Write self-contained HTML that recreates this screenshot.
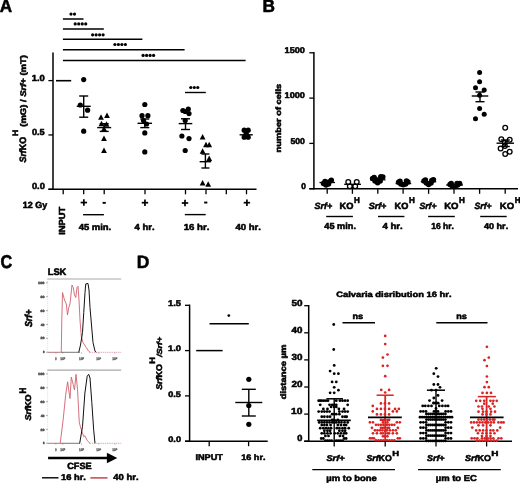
<!DOCTYPE html>
<html><head><meta charset="utf-8"><style>
html,body{margin:0;padding:0;background:#fff;width:520px;height:483px;overflow:hidden}
svg{display:block;filter:blur(0.35px)}
text{font-family:"Liberation Sans",sans-serif;font-kerning:none;text-rendering:geometricPrecision}
</style></head><body>
<svg width="520" height="483" viewBox="0 0 520 483">
<rect width="520" height="483" fill="#fff"/>
<text transform="translate(-0.241,12.025) scale(0.17197,0.17899)" fill="#000"  stroke="#000" stroke-width="3.134" stroke-linejoin="round"><tspan x="0.00" y="0.00" font-size="100.0" font-style="normal" font-weight="bold">A</tspan></text>
<text transform="translate(262.564,12.025) scale(0.17295,0.17899)" fill="#000"  stroke="#000" stroke-width="3.126" stroke-linejoin="round"><tspan x="0.00" y="0.00" font-size="100.0" font-style="normal" font-weight="bold">B</tspan></text>
<text transform="translate(0.426,268.338) scale(0.16231,0.18662)" fill="#000"  stroke="#000" stroke-width="3.153" stroke-linejoin="round"><tspan x="0.00" y="0.00" font-size="100.0" font-style="normal" font-weight="bold">C</tspan></text>
<text transform="translate(136.853,268.125) scale(0.17459,0.17899)" fill="#000"  stroke="#000" stroke-width="3.111" stroke-linejoin="round"><tspan x="0.00" y="0.00" font-size="100.0" font-style="normal" font-weight="bold">D</tspan></text>
<line x1="53.00" y1="52.50" x2="53.00" y2="190.00" stroke="#000" stroke-width="1.5" />
<line x1="48.40" y1="189.30" x2="256.50" y2="189.30" stroke="#000" stroke-width="1.5" />
<line x1="48.40" y1="80.60" x2="53.00" y2="80.60" stroke="#000" stroke-width="1.3" />
<text transform="translate(31.710,80.637) scale(0.09419,0.08803)" fill="#000"  stroke="#000" stroke-width="6.037" stroke-linejoin="round"><tspan x="0.00" y="0.00" font-size="100.0" font-style="normal" font-weight="bold">1.0</tspan></text>
<line x1="48.40" y1="134.95" x2="53.00" y2="134.95" stroke="#000" stroke-width="1.3" />
<text transform="translate(31.907,134.987) scale(0.09205,0.08803)" fill="#000"  stroke="#000" stroke-width="6.109" stroke-linejoin="round"><tspan x="0.00" y="0.00" font-size="100.0" font-style="normal" font-weight="bold">0.5</tspan></text>
<line x1="48.40" y1="189.30" x2="53.00" y2="189.30" stroke="#000" stroke-width="1.3" />
<text transform="translate(31.904,189.337) scale(0.09275,0.08803)" fill="#000"  stroke="#000" stroke-width="6.085" stroke-linejoin="round"><tspan x="0.00" y="0.00" font-size="100.0" font-style="normal" font-weight="bold">0.0</tspan></text>
<line x1="63.20" y1="189.30" x2="63.20" y2="194.30" stroke="#000" stroke-width="1.3" />
<line x1="83.70" y1="189.30" x2="83.70" y2="194.30" stroke="#000" stroke-width="1.3" />
<line x1="104.20" y1="189.30" x2="104.20" y2="194.30" stroke="#000" stroke-width="1.3" />
<line x1="145.00" y1="189.30" x2="145.00" y2="194.30" stroke="#000" stroke-width="1.3" />
<line x1="185.50" y1="189.30" x2="185.50" y2="194.30" stroke="#000" stroke-width="1.3" />
<line x1="206.00" y1="189.30" x2="206.00" y2="194.30" stroke="#000" stroke-width="1.3" />
<line x1="226.30" y1="189.30" x2="226.30" y2="194.30" stroke="#000" stroke-width="1.3" />
<line x1="246.50" y1="189.30" x2="246.50" y2="194.30" stroke="#000" stroke-width="1.3" />
<line x1="62.90" y1="19.00" x2="83.50" y2="19.00" stroke="#000" stroke-width="1.5" />
<line x1="62.90" y1="29.10" x2="103.80" y2="29.10" stroke="#000" stroke-width="1.5" />
<line x1="62.90" y1="39.20" x2="142.40" y2="39.20" stroke="#000" stroke-width="1.5" />
<line x1="62.90" y1="49.80" x2="184.60" y2="49.80" stroke="#000" stroke-width="1.5" />
<line x1="62.90" y1="60.40" x2="245.60" y2="60.40" stroke="#000" stroke-width="1.5" />
<circle cx="71.00" cy="14.10" r="1.60" fill="#000" stroke="none" stroke-width="0"/>
<circle cx="74.50" cy="14.10" r="1.60" fill="#000" stroke="none" stroke-width="0"/>
<circle cx="75.20" cy="23.90" r="1.60" fill="#000" stroke="none" stroke-width="0"/>
<circle cx="78.70" cy="23.90" r="1.60" fill="#000" stroke="none" stroke-width="0"/>
<circle cx="82.20" cy="23.90" r="1.60" fill="#000" stroke="none" stroke-width="0"/>
<circle cx="85.70" cy="23.90" r="1.60" fill="#000" stroke="none" stroke-width="0"/>
<circle cx="92.60" cy="34.80" r="1.60" fill="#000" stroke="none" stroke-width="0"/>
<circle cx="96.10" cy="34.80" r="1.60" fill="#000" stroke="none" stroke-width="0"/>
<circle cx="99.60" cy="34.80" r="1.60" fill="#000" stroke="none" stroke-width="0"/>
<circle cx="103.10" cy="34.80" r="1.60" fill="#000" stroke="none" stroke-width="0"/>
<circle cx="114.90" cy="44.50" r="1.60" fill="#000" stroke="none" stroke-width="0"/>
<circle cx="118.40" cy="44.50" r="1.60" fill="#000" stroke="none" stroke-width="0"/>
<circle cx="121.90" cy="44.50" r="1.60" fill="#000" stroke="none" stroke-width="0"/>
<circle cx="125.40" cy="44.50" r="1.60" fill="#000" stroke="none" stroke-width="0"/>
<circle cx="143.10" cy="55.40" r="1.60" fill="#000" stroke="none" stroke-width="0"/>
<circle cx="146.60" cy="55.40" r="1.60" fill="#000" stroke="none" stroke-width="0"/>
<circle cx="150.10" cy="55.40" r="1.60" fill="#000" stroke="none" stroke-width="0"/>
<circle cx="153.60" cy="55.40" r="1.60" fill="#000" stroke="none" stroke-width="0"/>
<line x1="185.00" y1="92.50" x2="205.80" y2="92.50" stroke="#000" stroke-width="1.4" />
<circle cx="190.80" cy="87.50" r="1.60" fill="#000" stroke="none" stroke-width="0"/>
<circle cx="194.30" cy="87.50" r="1.60" fill="#000" stroke="none" stroke-width="0"/>
<circle cx="197.80" cy="87.50" r="1.60" fill="#000" stroke="none" stroke-width="0"/>
<line x1="56.00" y1="80.70" x2="71.20" y2="80.70" stroke="#000" stroke-width="1.6" />
<circle cx="83.70" cy="79.60" r="2.60" fill="#000" stroke="none" stroke-width="0"/>
<circle cx="80.30" cy="105.00" r="2.60" fill="#000" stroke="none" stroke-width="0"/>
<circle cx="87.60" cy="110.20" r="2.60" fill="#000" stroke="none" stroke-width="0"/>
<circle cx="83.70" cy="131.20" r="2.60" fill="#000" stroke="none" stroke-width="0"/>
<line x1="76.70" y1="106.30" x2="90.70" y2="106.30" stroke="#000" stroke-width="1.4" />
<line x1="83.70" y1="96.00" x2="83.70" y2="117.20" stroke="#000" stroke-width="1.4" />
<line x1="79.20" y1="96.00" x2="88.20" y2="96.00" stroke="#000" stroke-width="1.4" />
<line x1="79.20" y1="117.20" x2="88.20" y2="117.20" stroke="#000" stroke-width="1.4" />
<polygon points="101.00,114.19 98.10,119.70 103.90,119.70" fill="#000"/>
<polygon points="107.00,112.49 104.10,118.00 109.90,118.00" fill="#000"/>
<polygon points="101.50,120.69 98.60,126.20 104.40,126.20" fill="#000"/>
<polygon points="106.50,121.19 103.60,126.70 109.40,126.70" fill="#000"/>
<polygon points="104.00,125.69 101.10,131.20 106.90,131.20" fill="#000"/>
<polygon points="104.00,135.39 101.10,140.90 106.90,140.90" fill="#000"/>
<polygon points="104.00,147.59 101.10,153.10 106.90,153.10" fill="#000"/>
<line x1="97.20" y1="127.60" x2="111.20" y2="127.60" stroke="#000" stroke-width="1.4" />
<line x1="104.20" y1="123.70" x2="104.20" y2="131.40" stroke="#000" stroke-width="1.4" />
<line x1="99.70" y1="123.70" x2="108.70" y2="123.70" stroke="#000" stroke-width="1.4" />
<line x1="99.70" y1="131.40" x2="108.70" y2="131.40" stroke="#000" stroke-width="1.4" />
<circle cx="144.80" cy="104.50" r="2.60" fill="#000" stroke="none" stroke-width="0"/>
<circle cx="142.00" cy="115.70" r="2.60" fill="#000" stroke="none" stroke-width="0"/>
<circle cx="147.90" cy="115.70" r="2.60" fill="#000" stroke="none" stroke-width="0"/>
<circle cx="143.50" cy="120.50" r="2.60" fill="#000" stroke="none" stroke-width="0"/>
<circle cx="146.50" cy="124.00" r="2.60" fill="#000" stroke="none" stroke-width="0"/>
<circle cx="144.80" cy="132.90" r="2.60" fill="#000" stroke="none" stroke-width="0"/>
<circle cx="144.80" cy="151.90" r="2.60" fill="#000" stroke="none" stroke-width="0"/>
<line x1="137.55" y1="123.30" x2="152.05" y2="123.30" stroke="#000" stroke-width="1.4" />
<line x1="144.80" y1="119.00" x2="144.80" y2="127.60" stroke="#000" stroke-width="1.4" />
<line x1="140.30" y1="119.00" x2="149.30" y2="119.00" stroke="#000" stroke-width="1.4" />
<line x1="140.30" y1="127.60" x2="149.30" y2="127.60" stroke="#000" stroke-width="1.4" />
<circle cx="182.90" cy="110.50" r="2.60" fill="#000" stroke="none" stroke-width="0"/>
<circle cx="188.30" cy="109.00" r="2.60" fill="#000" stroke="none" stroke-width="0"/>
<circle cx="185.20" cy="111.50" r="2.60" fill="#000" stroke="none" stroke-width="0"/>
<circle cx="189.00" cy="113.60" r="2.60" fill="#000" stroke="none" stroke-width="0"/>
<circle cx="185.20" cy="120.50" r="2.60" fill="#000" stroke="none" stroke-width="0"/>
<circle cx="181.90" cy="136.00" r="2.60" fill="#000" stroke="none" stroke-width="0"/>
<circle cx="189.00" cy="138.60" r="2.60" fill="#000" stroke="none" stroke-width="0"/>
<circle cx="185.20" cy="150.50" r="2.60" fill="#000" stroke="none" stroke-width="0"/>
<line x1="178.70" y1="123.60" x2="192.30" y2="123.60" stroke="#000" stroke-width="1.4" />
<line x1="185.50" y1="118.80" x2="185.50" y2="129.50" stroke="#000" stroke-width="1.4" />
<line x1="181.00" y1="118.80" x2="190.00" y2="118.80" stroke="#000" stroke-width="1.4" />
<line x1="181.00" y1="129.50" x2="190.00" y2="129.50" stroke="#000" stroke-width="1.4" />
<polygon points="202.60,133.99 199.70,139.50 205.50,139.50" fill="#000"/>
<polygon points="206.00,141.69 203.10,147.20 208.90,147.20" fill="#000"/>
<polygon points="209.20,141.69 206.30,147.20 212.10,147.20" fill="#000"/>
<polygon points="202.60,148.29 199.70,153.80 205.50,153.80" fill="#000"/>
<polygon points="209.20,155.49 206.30,161.00 212.10,161.00" fill="#000"/>
<polygon points="202.60,179.99 199.70,185.50 205.50,185.50" fill="#000"/>
<polygon points="208.20,181.19 205.30,186.70 211.10,186.70" fill="#000"/>
<line x1="199.65" y1="161.70" x2="211.15" y2="161.70" stroke="#000" stroke-width="1.4" />
<line x1="205.40" y1="154.00" x2="205.40" y2="168.00" stroke="#000" stroke-width="1.4" />
<line x1="201.40" y1="154.00" x2="209.40" y2="154.00" stroke="#000" stroke-width="1.4" />
<line x1="201.40" y1="168.00" x2="209.40" y2="168.00" stroke="#000" stroke-width="1.4" />
<circle cx="244.20" cy="130.20" r="2.60" fill="#000" stroke="none" stroke-width="0"/>
<circle cx="248.20" cy="130.20" r="2.60" fill="#000" stroke="none" stroke-width="0"/>
<circle cx="246.20" cy="133.20" r="2.60" fill="#000" stroke="none" stroke-width="0"/>
<circle cx="244.20" cy="137.20" r="2.60" fill="#000" stroke="none" stroke-width="0"/>
<circle cx="248.20" cy="137.20" r="2.60" fill="#000" stroke="none" stroke-width="0"/>
<line x1="239.60" y1="134.80" x2="252.80" y2="134.80" stroke="#000" stroke-width="1.4" />
<text transform="translate(22.635,208.444) scale(0.09004,0.08956)" fill="#000"  stroke="#000" stroke-width="6.125" stroke-linejoin="round"><tspan x="0.00" y="0.00" font-size="100.0" font-style="normal" font-weight="bold">12 Gy</tspan></text>
<line x1="80.65" y1="202.55" x2="87.05" y2="202.55" stroke="#000" stroke-width="1.7" />
<line x1="83.85" y1="199.35" x2="83.85" y2="205.75" stroke="#000" stroke-width="1.7" />
<line x1="141.75" y1="202.70" x2="148.15" y2="202.70" stroke="#000" stroke-width="1.7" />
<line x1="144.95" y1="199.50" x2="144.95" y2="205.90" stroke="#000" stroke-width="1.7" />
<line x1="181.80" y1="203.00" x2="188.20" y2="203.00" stroke="#000" stroke-width="1.7" />
<line x1="185.00" y1="199.80" x2="185.00" y2="206.20" stroke="#000" stroke-width="1.7" />
<line x1="243.70" y1="202.70" x2="250.10" y2="202.70" stroke="#000" stroke-width="1.7" />
<line x1="246.90" y1="199.50" x2="246.90" y2="205.90" stroke="#000" stroke-width="1.7" />
<line x1="102.60" y1="202.85" x2="105.80" y2="202.85" stroke="#000" stroke-width="1.9" />
<line x1="204.15" y1="202.55" x2="207.35" y2="202.55" stroke="#000" stroke-width="1.9" />
<line x1="83.10" y1="214.70" x2="103.90" y2="214.70" stroke="#000" stroke-width="1.4" />
<line x1="184.80" y1="214.60" x2="205.70" y2="214.60" stroke="#000" stroke-width="1.4" />
<text transform="translate(78.680,230.038) scale(0.09451,0.08699)" fill="#000"  stroke="#000" stroke-width="6.061" stroke-linejoin="round"><tspan x="0.00" y="0.00" font-size="100.0" font-style="normal" font-weight="bold">45 min.</tspan></text>
<text transform="translate(134.580,230.125) scale(0.09470,0.08819)" fill="#000"  stroke="#000" stroke-width="6.014" stroke-linejoin="round"><tspan x="0.00" y="0.00" font-size="100.0" font-style="normal" font-weight="bold">4 hr.</tspan></text>
<text transform="translate(183.696,230.038) scale(0.09657,0.08699)" fill="#000"  stroke="#000" stroke-width="5.993" stroke-linejoin="round"><tspan x="0.00" y="0.00" font-size="100.0" font-style="normal" font-weight="bold">16 hr.</tspan></text>
<text transform="translate(235.380,230.038) scale(0.09545,0.08699)" fill="#000"  stroke="#000" stroke-width="6.029" stroke-linejoin="round"><tspan x="0.00" y="0.00" font-size="100.0" font-style="normal" font-weight="bold">40 hr.</tspan></text>
<text transform="translate(64.837,234.781) rotate(-90) scale(0.09366,0.08786)" fill="#000"  stroke="#000" stroke-width="6.060" stroke-linejoin="round"><tspan x="0.00" y="0.00" font-size="100.0" font-style="normal" font-weight="bold">INPUT</tspan></text>
<text transform="translate(25.933,162.514) rotate(-90) scale(0.08856,0.09247)" fill="#000"  stroke="#000" stroke-width="6.077" stroke-linejoin="round"><tspan x="0.00" y="0.00" font-size="100.0" font-style="italic" font-weight="bold">Srf</tspan><tspan x="138.92" y="0.00" font-size="100.0" font-style="normal" font-weight="bold">KO</tspan></text>
<text transform="translate(17.925,136.124) rotate(-90) scale(0.08559,0.07899)" fill="#000"  stroke="#000" stroke-width="6.684" stroke-linejoin="round"><tspan x="0.00" y="0.00" font-size="100.0" font-style="normal" font-weight="bold">H</tspan></text>
<text transform="translate(25.598,126.697) rotate(-90) scale(0.09445,0.08226)" fill="#000"  stroke="#000" stroke-width="6.225" stroke-linejoin="round"><tspan x="0.00" y="0.00" font-size="100.0" font-style="normal" font-weight="bold">(mG) / </tspan><tspan x="316.64" y="0.00" font-size="100.0" font-style="italic" font-weight="bold">Srf+</tspan><tspan x="513.97" y="0.00" font-size="100.0" font-style="normal" font-weight="bold"> (mT)</tspan></text>
<line x1="313.90" y1="52.00" x2="313.90" y2="189.40" stroke="#000" stroke-width="1.5" />
<line x1="309.30" y1="188.70" x2="518.00" y2="188.70" stroke="#000" stroke-width="1.5" />
<line x1="309.30" y1="52.80" x2="313.90" y2="52.80" stroke="#000" stroke-width="1.3" />
<line x1="309.30" y1="98.10" x2="313.90" y2="98.10" stroke="#000" stroke-width="1.3" />
<line x1="309.30" y1="143.40" x2="313.90" y2="143.40" stroke="#000" stroke-width="1.3" />
<line x1="309.30" y1="188.70" x2="313.90" y2="188.70" stroke="#000" stroke-width="1.3" />
<text transform="translate(284.524,52.541) scale(0.09178,0.08380)" fill="#000"  stroke="#000" stroke-width="6.265" stroke-linejoin="round"><tspan x="0.00" y="0.00" font-size="100.0" font-style="normal" font-weight="bold">1500</tspan></text>
<text transform="translate(284.524,98.041) scale(0.09178,0.08380)" fill="#000"  stroke="#000" stroke-width="6.265" stroke-linejoin="round"><tspan x="0.00" y="0.00" font-size="100.0" font-style="normal" font-weight="bold">1000</tspan></text>
<text transform="translate(290.413,143.541) scale(0.08719,0.08380)" fill="#000"  stroke="#000" stroke-width="6.433" stroke-linejoin="round"><tspan x="0.00" y="0.00" font-size="100.0" font-style="normal" font-weight="bold">500</tspan></text>
<text transform="translate(301.238,188.741) scale(0.08438,0.08380)" fill="#000"  stroke="#000" stroke-width="6.541" stroke-linejoin="round"><tspan x="0.00" y="0.00" font-size="100.0" font-style="normal" font-weight="bold">0</tspan></text>
<line x1="327.20" y1="188.70" x2="327.20" y2="193.80" stroke="#000" stroke-width="1.3" />
<line x1="352.40" y1="188.70" x2="352.40" y2="193.80" stroke="#000" stroke-width="1.3" />
<line x1="377.80" y1="188.70" x2="377.80" y2="193.80" stroke="#000" stroke-width="1.3" />
<line x1="403.10" y1="188.70" x2="403.10" y2="193.80" stroke="#000" stroke-width="1.3" />
<line x1="428.60" y1="188.70" x2="428.60" y2="193.80" stroke="#000" stroke-width="1.3" />
<line x1="454.00" y1="188.70" x2="454.00" y2="193.80" stroke="#000" stroke-width="1.3" />
<line x1="479.60" y1="188.70" x2="479.60" y2="193.80" stroke="#000" stroke-width="1.3" />
<line x1="505.20" y1="188.70" x2="505.20" y2="193.80" stroke="#000" stroke-width="1.3" />
<text transform="translate(314.586,209.434) scale(0.08892,0.09110)" fill="#000"  stroke="#000" stroke-width="6.111" stroke-linejoin="round"><tspan x="0.00" y="0.00" font-size="100.0" font-style="italic" font-weight="bold">Srf+</tspan></text>
<text transform="translate(368.686,209.434) scale(0.08943,0.09110)" fill="#000"  stroke="#000" stroke-width="6.093" stroke-linejoin="round"><tspan x="0.00" y="0.00" font-size="100.0" font-style="italic" font-weight="bold">Srf+</tspan></text>
<text transform="translate(419.388,209.434) scale(0.08686,0.09110)" fill="#000"  stroke="#000" stroke-width="6.181" stroke-linejoin="round"><tspan x="0.00" y="0.00" font-size="100.0" font-style="italic" font-weight="bold">Srf+</tspan></text>
<text transform="translate(474.589,209.434) scale(0.08634,0.09110)" fill="#000"  stroke="#000" stroke-width="6.199" stroke-linejoin="round"><tspan x="0.00" y="0.00" font-size="100.0" font-style="italic" font-weight="bold">Srf+</tspan></text>
<text transform="translate(339.423,209.434) scale(0.09317,0.09085)" fill="#000"  stroke="#000" stroke-width="5.978" stroke-linejoin="round"><tspan x="0.00" y="0.00" font-size="100.0" font-style="normal" font-weight="bold">KO</tspan></text>
<text transform="translate(354.011,203.425) scale(0.08051,0.08188)" fill="#000"  stroke="#000" stroke-width="6.774" stroke-linejoin="round"><tspan x="0.00" y="0.00" font-size="100.0" font-style="normal" font-weight="bold">H</tspan></text>
<text transform="translate(394.533,209.434) scale(0.09173,0.09085)" fill="#000"  stroke="#000" stroke-width="6.025" stroke-linejoin="round"><tspan x="0.00" y="0.00" font-size="100.0" font-style="normal" font-weight="bold">KO</tspan></text>
<text transform="translate(408.911,203.425) scale(0.08051,0.08188)" fill="#000"  stroke="#000" stroke-width="6.774" stroke-linejoin="round"><tspan x="0.00" y="0.00" font-size="100.0" font-style="normal" font-weight="bold">H</tspan></text>
<text transform="translate(444.208,209.434) scale(0.09532,0.09085)" fill="#000"  stroke="#000" stroke-width="5.909" stroke-linejoin="round"><tspan x="0.00" y="0.00" font-size="100.0" font-style="normal" font-weight="bold">KO</tspan></text>
<text transform="translate(459.111,203.425) scale(0.08051,0.08188)" fill="#000"  stroke="#000" stroke-width="6.774" stroke-linejoin="round"><tspan x="0.00" y="0.00" font-size="100.0" font-style="normal" font-weight="bold">H</tspan></text>
<text transform="translate(499.808,209.434) scale(0.09532,0.09085)" fill="#000"  stroke="#000" stroke-width="5.909" stroke-linejoin="round"><tspan x="0.00" y="0.00" font-size="100.0" font-style="normal" font-weight="bold">KO</tspan></text>
<text transform="translate(514.711,203.425) scale(0.08051,0.08188)" fill="#000"  stroke="#000" stroke-width="6.774" stroke-linejoin="round"><tspan x="0.00" y="0.00" font-size="100.0" font-style="normal" font-weight="bold">H</tspan></text>
<line x1="326.20" y1="216.50" x2="352.90" y2="216.50" stroke="#000" stroke-width="1.4" />
<line x1="378.00" y1="216.50" x2="404.40" y2="216.50" stroke="#000" stroke-width="1.4" />
<line x1="428.10" y1="216.50" x2="454.80" y2="216.50" stroke="#000" stroke-width="1.4" />
<line x1="480.20" y1="216.50" x2="506.70" y2="216.50" stroke="#000" stroke-width="1.4" />
<text transform="translate(324.283,229.437) scale(0.09184,0.08836)" fill="#000"  stroke="#000" stroke-width="6.104" stroke-linejoin="round"><tspan x="0.00" y="0.00" font-size="100.0" font-style="normal" font-weight="bold">45 min.</tspan></text>
<text transform="translate(382.378,229.425) scale(0.09672,0.08681)" fill="#000"  stroke="#000" stroke-width="5.994" stroke-linejoin="round"><tspan x="0.00" y="0.00" font-size="100.0" font-style="normal" font-weight="bold">4 hr.</tspan></text>
<text transform="translate(431.266,229.339) scale(0.08488,0.08562)" fill="#000"  stroke="#000" stroke-width="6.452" stroke-linejoin="round"><tspan x="0.00" y="0.00" font-size="100.0" font-style="normal" font-weight="bold">16 hr.</tspan></text>
<text transform="translate(483.884,229.341) scale(0.09111,0.08425)" fill="#000"  stroke="#000" stroke-width="6.273" stroke-linejoin="round"><tspan x="0.00" y="0.00" font-size="100.0" font-style="normal" font-weight="bold">40 hr.</tspan></text>
<text transform="translate(281.048,152.375) rotate(-90) scale(0.09279,0.07740)" fill="#000"  stroke="#000" stroke-width="6.464" stroke-linejoin="round"><tspan x="0.00" y="0.00" font-size="100.0" font-style="normal" font-weight="bold">number of cells</tspan></text>
<circle cx="323.50" cy="183.60" r="2.75" fill="#000" stroke="none" stroke-width="0"/>
<circle cx="326.00" cy="185.00" r="2.75" fill="#000" stroke="none" stroke-width="0"/>
<circle cx="328.50" cy="184.00" r="2.75" fill="#000" stroke="none" stroke-width="0"/>
<circle cx="325.00" cy="181.60" r="2.75" fill="#000" stroke="none" stroke-width="0"/>
<circle cx="331.30" cy="180.30" r="2.75" fill="#000" stroke="none" stroke-width="0"/>
<circle cx="329.00" cy="182.00" r="2.75" fill="#000" stroke="none" stroke-width="0"/>
<line x1="319.50" y1="182.50" x2="335.00" y2="182.50" stroke="#000" stroke-width="1.3" />
<circle cx="349.80" cy="186.30" r="2.35" fill="#fff" stroke="#000" stroke-width="1.3"/>
<circle cx="355.20" cy="186.30" r="2.35" fill="#fff" stroke="#000" stroke-width="1.3"/>
<circle cx="348.25" cy="182.00" r="2.35" fill="#fff" stroke="#000" stroke-width="1.3"/>
<circle cx="356.75" cy="182.00" r="2.35" fill="#fff" stroke="#000" stroke-width="1.3"/>
<line x1="344.20" y1="184.30" x2="361.00" y2="184.30" stroke="#000" stroke-width="1.3" />
<line x1="352.50" y1="184.30" x2="352.50" y2="188.00" stroke="#000" stroke-width="1.2" />
<circle cx="372.60" cy="178.60" r="2.75" fill="#000" stroke="none" stroke-width="0"/>
<circle cx="375.00" cy="181.00" r="2.75" fill="#000" stroke="none" stroke-width="0"/>
<circle cx="377.60" cy="182.80" r="2.75" fill="#000" stroke="none" stroke-width="0"/>
<circle cx="380.20" cy="181.00" r="2.75" fill="#000" stroke="none" stroke-width="0"/>
<circle cx="382.80" cy="177.00" r="2.75" fill="#000" stroke="none" stroke-width="0"/>
<circle cx="380.80" cy="176.80" r="2.75" fill="#000" stroke="none" stroke-width="0"/>
<circle cx="374.20" cy="177.50" r="2.75" fill="#000" stroke="none" stroke-width="0"/>
<circle cx="377.60" cy="180.00" r="2.75" fill="#000" stroke="none" stroke-width="0"/>
<line x1="370.00" y1="179.80" x2="385.50" y2="179.80" stroke="#000" stroke-width="1.3" />
<circle cx="398.60" cy="182.20" r="2.75" fill="#000" stroke="none" stroke-width="0"/>
<circle cx="400.80" cy="184.00" r="2.75" fill="#000" stroke="none" stroke-width="0"/>
<circle cx="403.20" cy="184.80" r="2.75" fill="#000" stroke="none" stroke-width="0"/>
<circle cx="405.60" cy="184.00" r="2.75" fill="#000" stroke="none" stroke-width="0"/>
<circle cx="407.90" cy="182.00" r="2.75" fill="#000" stroke="none" stroke-width="0"/>
<circle cx="400.00" cy="181.20" r="2.75" fill="#000" stroke="none" stroke-width="0"/>
<circle cx="406.50" cy="181.00" r="2.75" fill="#000" stroke="none" stroke-width="0"/>
<line x1="395.60" y1="183.60" x2="411.20" y2="183.60" stroke="#000" stroke-width="1.3" />
<circle cx="424.00" cy="181.00" r="2.75" fill="#000" stroke="none" stroke-width="0"/>
<circle cx="426.40" cy="183.00" r="2.75" fill="#000" stroke="none" stroke-width="0"/>
<circle cx="428.60" cy="184.40" r="2.75" fill="#000" stroke="none" stroke-width="0"/>
<circle cx="431.00" cy="183.00" r="2.75" fill="#000" stroke="none" stroke-width="0"/>
<circle cx="433.40" cy="179.80" r="2.75" fill="#000" stroke="none" stroke-width="0"/>
<circle cx="431.80" cy="180.60" r="2.75" fill="#000" stroke="none" stroke-width="0"/>
<circle cx="425.40" cy="180.00" r="2.75" fill="#000" stroke="none" stroke-width="0"/>
<line x1="420.80" y1="181.80" x2="436.20" y2="181.80" stroke="#000" stroke-width="1.3" />
<circle cx="450.00" cy="184.60" r="2.75" fill="#000" stroke="none" stroke-width="0"/>
<circle cx="452.40" cy="186.20" r="2.75" fill="#000" stroke="none" stroke-width="0"/>
<circle cx="455.00" cy="186.40" r="2.75" fill="#000" stroke="none" stroke-width="0"/>
<circle cx="457.60" cy="185.00" r="2.75" fill="#000" stroke="none" stroke-width="0"/>
<circle cx="459.60" cy="183.60" r="2.75" fill="#000" stroke="none" stroke-width="0"/>
<circle cx="451.20" cy="183.60" r="2.75" fill="#000" stroke="none" stroke-width="0"/>
<circle cx="457.00" cy="183.40" r="2.75" fill="#000" stroke="none" stroke-width="0"/>
<line x1="446.20" y1="185.00" x2="463.00" y2="185.00" stroke="#000" stroke-width="1.3" />
<circle cx="479.60" cy="72.50" r="2.50" fill="#000" stroke="none" stroke-width="0"/>
<circle cx="479.60" cy="81.70" r="2.50" fill="#000" stroke="none" stroke-width="0"/>
<circle cx="475.50" cy="87.80" r="2.50" fill="#000" stroke="none" stroke-width="0"/>
<circle cx="484.20" cy="90.10" r="2.50" fill="#000" stroke="none" stroke-width="0"/>
<circle cx="479.60" cy="95.30" r="2.50" fill="#000" stroke="none" stroke-width="0"/>
<circle cx="479.60" cy="108.60" r="2.50" fill="#000" stroke="none" stroke-width="0"/>
<circle cx="484.20" cy="114.30" r="2.50" fill="#000" stroke="none" stroke-width="0"/>
<circle cx="475.50" cy="118.80" r="2.50" fill="#000" stroke="none" stroke-width="0"/>
<line x1="471.75" y1="96.00" x2="488.25" y2="96.00" stroke="#000" stroke-width="1.4" />
<line x1="480.00" y1="92.00" x2="480.00" y2="101.70" stroke="#000" stroke-width="1.4" />
<line x1="475.50" y1="92.00" x2="484.50" y2="92.00" stroke="#000" stroke-width="1.4" />
<line x1="475.50" y1="101.70" x2="484.50" y2="101.70" stroke="#000" stroke-width="1.4" />
<circle cx="505.20" cy="127.70" r="2.35" fill="none" stroke="#000" stroke-width="1.3"/>
<circle cx="501.30" cy="139.30" r="2.35" fill="none" stroke="#000" stroke-width="1.3"/>
<circle cx="509.70" cy="139.80" r="2.35" fill="none" stroke="#000" stroke-width="1.3"/>
<circle cx="504.70" cy="142.80" r="2.35" fill="none" stroke="#000" stroke-width="1.3"/>
<circle cx="500.60" cy="148.50" r="2.35" fill="none" stroke="#000" stroke-width="1.3"/>
<circle cx="509.70" cy="151.70" r="2.35" fill="none" stroke="#000" stroke-width="1.3"/>
<circle cx="505.20" cy="154.00" r="2.35" fill="none" stroke="#000" stroke-width="1.3"/>
<circle cx="504.90" cy="146.00" r="2.35" fill="none" stroke="#000" stroke-width="1.3"/>
<line x1="496.55" y1="143.20" x2="514.05" y2="143.20" stroke="#000" stroke-width="1.4" />
<line x1="505.30" y1="140.00" x2="505.30" y2="146.50" stroke="#000" stroke-width="1.4" />
<line x1="500.80" y1="140.00" x2="509.80" y2="140.00" stroke="#000" stroke-width="1.4" />
<line x1="500.80" y1="146.50" x2="509.80" y2="146.50" stroke="#000" stroke-width="1.4" />
<text transform="translate(47.724,275.430) scale(0.09297,0.09507)" fill="#000"  stroke="#000" stroke-width="5.850" stroke-linejoin="round"><tspan x="0.00" y="0.00" font-size="100.0" font-style="normal" font-weight="bold">LSK</tspan></text>
<line x1="47.30" y1="279.00" x2="121.20" y2="279.00" stroke="#a8a8a8" stroke-width="1.2" />
<line x1="47.70" y1="279.00" x2="47.70" y2="352.30" stroke="#c8c8c8" stroke-width="0.6" stroke-dasharray="1,1"/>
<text transform="translate(38.044,283.793) scale(0.03854,0.03169)" fill="#555"  stroke="#555" stroke-width="15.664" stroke-linejoin="round"><tspan x="0.00" y="0.00" font-size="100.0" font-style="normal" font-weight="bold">100</tspan></text>
<line x1="46.20" y1="282.70" x2="47.70" y2="282.70" stroke="#777" stroke-width="0.7" />
<text transform="translate(40.571,297.713) scale(0.03476,0.03169)" fill="#555"  stroke="#555" stroke-width="16.553" stroke-linejoin="round"><tspan x="0.00" y="0.00" font-size="100.0" font-style="normal" font-weight="bold">80</tspan></text>
<line x1="46.20" y1="296.62" x2="47.70" y2="296.62" stroke="#777" stroke-width="0.7" />
<text transform="translate(40.535,311.633) scale(0.03510,0.03169)" fill="#555"  stroke="#555" stroke-width="16.470" stroke-linejoin="round"><tspan x="0.00" y="0.00" font-size="100.0" font-style="normal" font-weight="bold">60</tspan></text>
<line x1="46.20" y1="310.54" x2="47.70" y2="310.54" stroke="#777" stroke-width="0.7" />
<text transform="translate(40.641,325.553) scale(0.03411,0.03169)" fill="#555"  stroke="#555" stroke-width="16.717" stroke-linejoin="round"><tspan x="0.00" y="0.00" font-size="100.0" font-style="normal" font-weight="bold">40</tspan></text>
<line x1="46.20" y1="324.46" x2="47.70" y2="324.46" stroke="#777" stroke-width="0.7" />
<text transform="translate(40.571,339.473) scale(0.03476,0.03169)" fill="#555"  stroke="#555" stroke-width="16.553" stroke-linejoin="round"><tspan x="0.00" y="0.00" font-size="100.0" font-style="normal" font-weight="bold">20</tspan></text>
<line x1="46.20" y1="338.38" x2="47.70" y2="338.38" stroke="#777" stroke-width="0.7" />
<text transform="translate(42.971,353.393) scale(0.02604,0.03169)" fill="#555"  stroke="#555" stroke-width="19.054" stroke-linejoin="round"><tspan x="0.00" y="0.00" font-size="100.0" font-style="normal" font-weight="bold">0</tspan></text>
<line x1="46.20" y1="352.30" x2="47.70" y2="352.30" stroke="#777" stroke-width="0.7" />
<text transform="translate(55.288,359.788) scale(0.02187,0.03732)" fill="#666"  stroke="#666" stroke-width="18.581" stroke-linejoin="round"><tspan x="0.00" y="0.00" font-size="100.0" font-style="normal" font-weight="normal">0</tspan></text>
<line x1="55.90" y1="352.30" x2="55.90" y2="353.70" stroke="#888" stroke-width="0.6" />
<text transform="translate(60.309,359.788) scale(0.03321,0.03732)" fill="#666"  stroke="#666" stroke-width="15.596" stroke-linejoin="round"><tspan x="0.00" y="0.00" font-size="100.0" font-style="normal" font-weight="normal">10²</tspan></text>
<line x1="62.80" y1="352.30" x2="62.80" y2="353.70" stroke="#888" stroke-width="0.6" />
<text transform="translate(79.109,359.788) scale(0.03321,0.03732)" fill="#666"  stroke="#666" stroke-width="15.596" stroke-linejoin="round"><tspan x="0.00" y="0.00" font-size="100.0" font-style="normal" font-weight="normal">10³</tspan></text>
<line x1="81.60" y1="352.30" x2="81.60" y2="353.70" stroke="#888" stroke-width="0.6" />
<text transform="translate(96.323,359.788) scale(0.03156,0.03732)" fill="#666"  stroke="#666" stroke-width="15.969" stroke-linejoin="round"><tspan x="0.00" y="0.00" font-size="100.0" font-style="normal" font-weight="normal">10⁴</tspan></text>
<line x1="98.80" y1="352.30" x2="98.80" y2="353.70" stroke="#888" stroke-width="0.6" />
<text transform="translate(112.317,359.788) scale(0.03225,0.03732)" fill="#666"  stroke="#666" stroke-width="15.811" stroke-linejoin="round"><tspan x="0.00" y="0.00" font-size="100.0" font-style="normal" font-weight="normal">10⁵</tspan></text>
<line x1="114.80" y1="352.30" x2="114.80" y2="353.70" stroke="#888" stroke-width="0.6" />
<line x1="47.30" y1="370.20" x2="121.20" y2="370.20" stroke="#a8a8a8" stroke-width="1.2" />
<line x1="47.70" y1="370.20" x2="47.70" y2="443.30" stroke="#c8c8c8" stroke-width="0.6" stroke-dasharray="1,1"/>
<text transform="translate(38.044,374.993) scale(0.03854,0.03169)" fill="#555"  stroke="#555" stroke-width="15.664" stroke-linejoin="round"><tspan x="0.00" y="0.00" font-size="100.0" font-style="normal" font-weight="bold">100</tspan></text>
<line x1="46.20" y1="373.90" x2="47.70" y2="373.90" stroke="#777" stroke-width="0.7" />
<text transform="translate(40.571,388.873) scale(0.03476,0.03169)" fill="#555"  stroke="#555" stroke-width="16.553" stroke-linejoin="round"><tspan x="0.00" y="0.00" font-size="100.0" font-style="normal" font-weight="bold">80</tspan></text>
<line x1="46.20" y1="387.78" x2="47.70" y2="387.78" stroke="#777" stroke-width="0.7" />
<text transform="translate(40.535,402.753) scale(0.03510,0.03169)" fill="#555"  stroke="#555" stroke-width="16.470" stroke-linejoin="round"><tspan x="0.00" y="0.00" font-size="100.0" font-style="normal" font-weight="bold">60</tspan></text>
<line x1="46.20" y1="401.66" x2="47.70" y2="401.66" stroke="#777" stroke-width="0.7" />
<text transform="translate(40.641,416.633) scale(0.03411,0.03169)" fill="#555"  stroke="#555" stroke-width="16.717" stroke-linejoin="round"><tspan x="0.00" y="0.00" font-size="100.0" font-style="normal" font-weight="bold">40</tspan></text>
<line x1="46.20" y1="415.54" x2="47.70" y2="415.54" stroke="#777" stroke-width="0.7" />
<text transform="translate(40.571,430.513) scale(0.03476,0.03169)" fill="#555"  stroke="#555" stroke-width="16.553" stroke-linejoin="round"><tspan x="0.00" y="0.00" font-size="100.0" font-style="normal" font-weight="bold">20</tspan></text>
<line x1="46.20" y1="429.42" x2="47.70" y2="429.42" stroke="#777" stroke-width="0.7" />
<text transform="translate(42.971,444.393) scale(0.02604,0.03169)" fill="#555"  stroke="#555" stroke-width="19.054" stroke-linejoin="round"><tspan x="0.00" y="0.00" font-size="100.0" font-style="normal" font-weight="bold">0</tspan></text>
<line x1="46.20" y1="443.30" x2="47.70" y2="443.30" stroke="#777" stroke-width="0.7" />
<text transform="translate(55.288,450.788) scale(0.02187,0.03732)" fill="#666"  stroke="#666" stroke-width="18.581" stroke-linejoin="round"><tspan x="0.00" y="0.00" font-size="100.0" font-style="normal" font-weight="normal">0</tspan></text>
<line x1="55.90" y1="443.30" x2="55.90" y2="444.70" stroke="#888" stroke-width="0.6" />
<text transform="translate(60.309,450.788) scale(0.03321,0.03732)" fill="#666"  stroke="#666" stroke-width="15.596" stroke-linejoin="round"><tspan x="0.00" y="0.00" font-size="100.0" font-style="normal" font-weight="normal">10²</tspan></text>
<line x1="62.80" y1="443.30" x2="62.80" y2="444.70" stroke="#888" stroke-width="0.6" />
<text transform="translate(79.109,450.788) scale(0.03321,0.03732)" fill="#666"  stroke="#666" stroke-width="15.596" stroke-linejoin="round"><tspan x="0.00" y="0.00" font-size="100.0" font-style="normal" font-weight="normal">10³</tspan></text>
<line x1="81.60" y1="443.30" x2="81.60" y2="444.70" stroke="#888" stroke-width="0.6" />
<text transform="translate(96.323,450.788) scale(0.03156,0.03732)" fill="#666"  stroke="#666" stroke-width="15.969" stroke-linejoin="round"><tspan x="0.00" y="0.00" font-size="100.0" font-style="normal" font-weight="normal">10⁴</tspan></text>
<line x1="98.80" y1="443.30" x2="98.80" y2="444.70" stroke="#888" stroke-width="0.6" />
<text transform="translate(112.317,450.788) scale(0.03225,0.03732)" fill="#666"  stroke="#666" stroke-width="15.811" stroke-linejoin="round"><tspan x="0.00" y="0.00" font-size="100.0" font-style="normal" font-weight="normal">10⁵</tspan></text>
<line x1="114.80" y1="443.30" x2="114.80" y2="444.70" stroke="#888" stroke-width="0.6" />
<line x1="47.70" y1="352.30" x2="60.60" y2="352.30" stroke="#a05060" stroke-width="0.8" />
<line x1="60.60" y1="352.30" x2="80.00" y2="352.30" stroke="#555" stroke-width="0.8" />
<line x1="89.50" y1="352.30" x2="121.20" y2="352.30" stroke="#d890a0" stroke-width="0.8" stroke-dasharray="1.4,0.8"/>
<line x1="47.70" y1="443.30" x2="60.60" y2="443.30" stroke="#a05060" stroke-width="0.8" />
<line x1="60.60" y1="443.30" x2="80.00" y2="443.30" stroke="#555" stroke-width="0.8" />
<line x1="89.50" y1="443.30" x2="121.20" y2="443.30" stroke="#d890a0" stroke-width="0.8" stroke-dasharray="1.4,0.8"/>
<path d="M61.25,352.30 L61.80,320.00 L62.50,292.50 L64.50,300.00 L66.25,303.75 L67.50,315.00 L68.75,307.50 L70.00,303.75 L72.00,285.00 L73.25,287.50 L74.50,295.00 L75.75,297.50 L77.00,287.50 L78.00,286.25 L79.00,300.00 L80.00,320.00 L81.25,336.25 L83.00,342.50 L86.25,347.50 L88.75,351.25 L90.00,352.30" fill="none" stroke="#d0606e" stroke-width="0.9" stroke-linejoin="round"/>
<path d="M78.75,352.30 L80.50,345.00 L82.50,332.50 L83.75,312.50 L85.00,292.50 L85.75,283.90 L88.00,283.50 L89.00,290.00 L90.00,307.50 L91.50,325.00 L93.00,342.50 L95.00,351.20 L96.25,352.30" fill="none" stroke="#111" stroke-width="1.0" stroke-linejoin="round"/>
<path d="M60.20,443.30 L63.00,421.00 L65.70,394.80 L67.60,381.80 L68.90,391.00 L70.00,398.50 L71.30,377.00 L73.20,384.60 L74.50,390.00 L76.00,374.30 L77.50,389.20 L79.30,422.80 L81.20,429.30 L83.10,434.90 L83.80,436.70 L84.90,435.80 L87.20,440.50 L90.00,443.30" fill="none" stroke="#d0606e" stroke-width="0.9" stroke-linejoin="round"/>
<path d="M79.70,443.30 L82.50,426.50 L84.90,393.00 L87.20,376.20 L88.70,374.30 L90.00,378.00 L91.80,402.30 L93.70,430.20 L95.00,443.30" fill="none" stroke="#111" stroke-width="1.0" stroke-linejoin="round"/>
<text transform="translate(32.024,327.114) rotate(-90) scale(0.08892,0.10068)" fill="#000"  stroke="#000" stroke-width="5.802" stroke-linejoin="round"><tspan x="0.00" y="0.00" font-size="100.0" font-style="italic" font-weight="bold">Srf+</tspan></text>
<text transform="translate(31.141,420.616) rotate(-90) scale(0.09067,0.08425)" fill="#000"  stroke="#000" stroke-width="6.289" stroke-linejoin="round"><tspan x="0.00" y="0.00" font-size="100.0" font-style="italic" font-weight="bold">Srf</tspan><tspan x="138.92" y="0.00" font-size="100.0" font-style="normal" font-weight="bold">KO</tspan></text>
<text transform="translate(26.225,393.600) rotate(-90) scale(0.08220,0.09638)" fill="#000"  stroke="#000" stroke-width="6.160" stroke-linejoin="round"><tspan x="0.00" y="0.00" font-size="100.0" font-style="normal" font-weight="bold">H</tspan></text>
<line x1="48.10" y1="458.00" x2="108.00" y2="458.00" stroke="#000" stroke-width="2.5" />
<polygon points="106.9,452.8 117.3,458.0 106.9,463.3" fill="#000"/>
<text transform="translate(67.207,468.836) scale(0.09208,0.08944)" fill="#000"  stroke="#000" stroke-width="6.060" stroke-linejoin="round"><tspan x="0.00" y="0.00" font-size="100.0" font-style="normal" font-weight="bold">CFSE</tspan></text>
<line x1="42.00" y1="477.80" x2="58.50" y2="477.80" stroke="#000" stroke-width="1.4" />
<text transform="translate(60.913,480.141) scale(0.09375,0.08425)" fill="#000"  stroke="#000" stroke-width="6.180" stroke-linejoin="round"><tspan x="0.00" y="0.00" font-size="100.0" font-style="normal" font-weight="bold">16 hr.</tspan></text>
<line x1="90.40" y1="477.90" x2="107.50" y2="477.90" stroke="#c0474f" stroke-width="1.5" />
<text transform="translate(113.280,480.239) scale(0.09506,0.08562)" fill="#000"  stroke="#000" stroke-width="6.088" stroke-linejoin="round"><tspan x="0.00" y="0.00" font-size="100.0" font-style="normal" font-weight="bold">40 hr.</tspan></text>
<line x1="189.60" y1="304.60" x2="189.60" y2="441.90" stroke="#000" stroke-width="1.5" />
<line x1="185.00" y1="441.20" x2="267.70" y2="441.20" stroke="#000" stroke-width="1.5" />
<line x1="185.00" y1="305.30" x2="189.60" y2="305.30" stroke="#000" stroke-width="1.3" />
<text transform="translate(168.019,306.143) scale(0.09269,0.08214)" fill="#000"  stroke="#000" stroke-width="6.292" stroke-linejoin="round"><tspan x="0.00" y="0.00" font-size="100.0" font-style="normal" font-weight="bold">1.5</tspan></text>
<line x1="185.00" y1="350.60" x2="189.60" y2="350.60" stroke="#000" stroke-width="1.3" />
<text transform="translate(168.015,351.444) scale(0.09341,0.08099)" fill="#000"  stroke="#000" stroke-width="6.307" stroke-linejoin="round"><tspan x="0.00" y="0.00" font-size="100.0" font-style="normal" font-weight="bold">1.0</tspan></text>
<line x1="185.00" y1="395.90" x2="189.60" y2="395.90" stroke="#000" stroke-width="1.3" />
<text transform="translate(168.210,396.744) scale(0.09129,0.08099)" fill="#000"  stroke="#000" stroke-width="6.385" stroke-linejoin="round"><tspan x="0.00" y="0.00" font-size="100.0" font-style="normal" font-weight="bold">0.5</tspan></text>
<line x1="185.00" y1="441.20" x2="189.60" y2="441.20" stroke="#000" stroke-width="1.3" />
<text transform="translate(168.207,442.044) scale(0.09198,0.08099)" fill="#000"  stroke="#000" stroke-width="6.359" stroke-linejoin="round"><tspan x="0.00" y="0.00" font-size="100.0" font-style="normal" font-weight="bold">0.0</tspan></text>
<line x1="209.20" y1="441.20" x2="209.20" y2="446.20" stroke="#000" stroke-width="1.3" />
<line x1="248.60" y1="441.20" x2="248.60" y2="446.20" stroke="#000" stroke-width="1.3" />
<text transform="translate(195.434,459.640) scale(0.09161,0.08500)" fill="#000"  stroke="#000" stroke-width="6.228" stroke-linejoin="round"><tspan x="0.00" y="0.00" font-size="100.0" font-style="normal" font-weight="bold">INPUT</tspan></text>
<text transform="translate(241.229,459.643) scale(0.09093,0.08151)" fill="#000"  stroke="#000" stroke-width="6.379" stroke-linejoin="round"><tspan x="0.00" y="0.00" font-size="100.0" font-style="normal" font-weight="bold">16 hr.</tspan></text>
<line x1="196.20" y1="350.60" x2="222.60" y2="350.60" stroke="#000" stroke-width="1.5" />
<line x1="209.50" y1="323.80" x2="248.80" y2="323.80" stroke="#000" stroke-width="1.4" />
<circle cx="228.80" cy="315.60" r="1.35" fill="#000" stroke="none" stroke-width="0"/>
<circle cx="248.80" cy="379.30" r="2.60" fill="#000" stroke="none" stroke-width="0"/>
<circle cx="248.80" cy="405.50" r="2.60" fill="#000" stroke="none" stroke-width="0"/>
<circle cx="248.80" cy="424.30" r="2.60" fill="#000" stroke="none" stroke-width="0"/>
<line x1="235.30" y1="402.50" x2="262.30" y2="402.50" stroke="#000" stroke-width="1.4" />
<line x1="248.80" y1="389.30" x2="248.80" y2="416.00" stroke="#000" stroke-width="1.4" />
<line x1="241.80" y1="389.30" x2="255.80" y2="389.30" stroke="#000" stroke-width="1.4" />
<line x1="241.80" y1="416.00" x2="255.80" y2="416.00" stroke="#000" stroke-width="1.4" />
<text transform="translate(162.142,389.814) rotate(-90) scale(0.08891,0.08288)" fill="#000"  stroke="#000" stroke-width="6.403" stroke-linejoin="round"><tspan x="0.00" y="0.00" font-size="100.0" font-style="italic" font-weight="bold">Srf</tspan><tspan x="138.92" y="0.00" font-size="100.0" font-style="normal" font-weight="bold">KO</tspan></text>
<text transform="translate(154.825,363.772) rotate(-90) scale(0.09237,0.08043)" fill="#000"  stroke="#000" stroke-width="6.365" stroke-linejoin="round"><tspan x="0.00" y="0.00" font-size="100.0" font-style="normal" font-weight="bold">H</tspan></text>
<text transform="translate(162.152,356.966) rotate(-90) scale(0.08965,0.07329)" fill="#000"  stroke="#000" stroke-width="6.751" stroke-linejoin="round"><tspan x="0.00" y="0.00" font-size="100.0" font-style="italic" font-weight="bold">/Srf+</tspan></text>
<text transform="translate(336.149,297.397) scale(0.09402,0.07808)" fill="#000"  stroke="#000" stroke-width="6.392" stroke-linejoin="round"><tspan x="0.00" y="0.00" font-size="100.0" font-style="normal" font-weight="bold">Calvaria disribution 16 hr.</tspan></text>
<line x1="308.70" y1="305.00" x2="308.70" y2="441.90" stroke="#000" stroke-width="1.5" />
<line x1="304.20" y1="441.20" x2="512.00" y2="441.20" stroke="#000" stroke-width="1.5" />
<line x1="304.20" y1="305.70" x2="308.70" y2="305.70" stroke="#000" stroke-width="1.3" />
<text transform="translate(291.376,305.837) scale(0.09952,0.08803)" fill="#000"  stroke="#000" stroke-width="5.865" stroke-linejoin="round"><tspan x="0.00" y="0.00" font-size="100.0" font-style="normal" font-weight="bold">50</tspan></text>
<line x1="304.20" y1="332.80" x2="308.70" y2="332.80" stroke="#000" stroke-width="1.3" />
<text transform="translate(291.577,332.937) scale(0.09766,0.08803)" fill="#000"  stroke="#000" stroke-width="5.924" stroke-linejoin="round"><tspan x="0.00" y="0.00" font-size="100.0" font-style="normal" font-weight="bold">40</tspan></text>
<line x1="304.20" y1="359.90" x2="308.70" y2="359.90" stroke="#000" stroke-width="1.3" />
<text transform="translate(291.478,360.037) scale(0.09858,0.08803)" fill="#000"  stroke="#000" stroke-width="5.895" stroke-linejoin="round"><tspan x="0.00" y="0.00" font-size="100.0" font-style="normal" font-weight="bold">30</tspan></text>
<line x1="304.20" y1="387.00" x2="308.70" y2="387.00" stroke="#000" stroke-width="1.3" />
<text transform="translate(291.376,387.137) scale(0.09952,0.08803)" fill="#000"  stroke="#000" stroke-width="5.865" stroke-linejoin="round"><tspan x="0.00" y="0.00" font-size="100.0" font-style="normal" font-weight="bold">20</tspan></text>
<line x1="304.20" y1="414.10" x2="308.70" y2="414.10" stroke="#000" stroke-width="1.3" />
<text transform="translate(291.060,414.237) scale(0.10245,0.08803)" fill="#000"  stroke="#000" stroke-width="5.775" stroke-linejoin="round"><tspan x="0.00" y="0.00" font-size="100.0" font-style="normal" font-weight="bold">10</tspan></text>
<line x1="304.20" y1="441.20" x2="308.70" y2="441.20" stroke="#000" stroke-width="1.3" />
<text transform="translate(297.304,441.337) scale(0.09271,0.08803)" fill="#000"  stroke="#000" stroke-width="6.086" stroke-linejoin="round"><tspan x="0.00" y="0.00" font-size="100.0" font-style="normal" font-weight="bold">0</tspan></text>
<text transform="translate(286.243,399.302) rotate(-90) scale(0.09430,0.08011)" fill="#000"  stroke="#000" stroke-width="6.307" stroke-linejoin="round"><tspan x="0.00" y="0.00" font-size="100.0" font-style="normal" font-weight="bold">distance µm</tspan></text>
<line x1="342.50" y1="322.80" x2="375.00" y2="322.80" stroke="#000" stroke-width="1.4" />
<text transform="translate(352.538,318.842) scale(0.09104,0.08273)" fill="#000"  stroke="#000" stroke-width="6.330" stroke-linejoin="round"><tspan x="0.00" y="0.00" font-size="100.0" font-style="normal" font-weight="bold">ns</tspan></text>
<line x1="436.30" y1="322.80" x2="487.50" y2="322.80" stroke="#000" stroke-width="1.4" />
<text transform="translate(456.138,318.842) scale(0.09104,0.08273)" fill="#000"  stroke="#000" stroke-width="6.330" stroke-linejoin="round"><tspan x="0.00" y="0.00" font-size="100.0" font-style="normal" font-weight="bold">ns</tspan></text>
<line x1="334.20" y1="441.20" x2="334.20" y2="446.50" stroke="#000" stroke-width="1.3" />
<line x1="385.20" y1="441.20" x2="385.20" y2="446.50" stroke="#000" stroke-width="1.3" />
<line x1="436.00" y1="441.20" x2="436.00" y2="446.50" stroke="#000" stroke-width="1.3" />
<line x1="486.60" y1="441.20" x2="486.60" y2="446.50" stroke="#000" stroke-width="1.3" />
<circle cx="333.75" cy="324.50" r="1.40" fill="#000" stroke="none" stroke-width="0"/>
<circle cx="333.75" cy="349.50" r="1.40" fill="#000" stroke="none" stroke-width="0"/>
<circle cx="334.20" cy="365.40" r="1.40" fill="#000" stroke="none" stroke-width="0"/>
<circle cx="330.10" cy="371.10" r="1.40" fill="#000" stroke="none" stroke-width="0"/>
<circle cx="334.20" cy="373.70" r="1.40" fill="#000" stroke="none" stroke-width="0"/>
<circle cx="338.40" cy="373.70" r="1.40" fill="#000" stroke="none" stroke-width="0"/>
<circle cx="332.10" cy="381.90" r="1.40" fill="#000" stroke="none" stroke-width="0"/>
<circle cx="336.30" cy="381.90" r="1.40" fill="#000" stroke="none" stroke-width="0"/>
<circle cx="334.20" cy="387.30" r="1.40" fill="#000" stroke="none" stroke-width="0"/>
<circle cx="338.40" cy="390.20" r="1.40" fill="#000" stroke="none" stroke-width="0"/>
<circle cx="330.10" cy="392.80" r="1.40" fill="#000" stroke="none" stroke-width="0"/>
<circle cx="334.20" cy="392.80" r="1.40" fill="#000" stroke="none" stroke-width="0"/>
<circle cx="318.66" cy="400.70" r="1.40" fill="#000" stroke="none" stroke-width="0"/>
<circle cx="320.22" cy="400.70" r="1.40" fill="#000" stroke="none" stroke-width="0"/>
<circle cx="321.77" cy="400.70" r="1.40" fill="#000" stroke="none" stroke-width="0"/>
<circle cx="323.84" cy="400.70" r="1.40" fill="#000" stroke="none" stroke-width="0"/>
<circle cx="325.92" cy="400.70" r="1.40" fill="#000" stroke="none" stroke-width="0"/>
<circle cx="327.99" cy="400.70" r="1.40" fill="#000" stroke="none" stroke-width="0"/>
<circle cx="336.28" cy="400.70" r="1.40" fill="#000" stroke="none" stroke-width="0"/>
<circle cx="339.91" cy="400.70" r="1.40" fill="#000" stroke="none" stroke-width="0"/>
<circle cx="342.50" cy="400.70" r="1.40" fill="#000" stroke="none" stroke-width="0"/>
<circle cx="345.09" cy="400.70" r="1.40" fill="#000" stroke="none" stroke-width="0"/>
<circle cx="347.68" cy="400.70" r="1.40" fill="#000" stroke="none" stroke-width="0"/>
<circle cx="320.22" cy="404.84" r="1.40" fill="#000" stroke="none" stroke-width="0"/>
<circle cx="329.54" cy="404.84" r="1.40" fill="#000" stroke="none" stroke-width="0"/>
<circle cx="332.13" cy="404.84" r="1.40" fill="#000" stroke="none" stroke-width="0"/>
<circle cx="334.21" cy="404.84" r="1.40" fill="#000" stroke="none" stroke-width="0"/>
<circle cx="336.28" cy="404.84" r="1.40" fill="#000" stroke="none" stroke-width="0"/>
<circle cx="347.68" cy="404.84" r="1.40" fill="#000" stroke="none" stroke-width="0"/>
<circle cx="331.10" cy="406.92" r="1.40" fill="#000" stroke="none" stroke-width="0"/>
<circle cx="334.21" cy="406.92" r="1.40" fill="#000" stroke="none" stroke-width="0"/>
<circle cx="336.28" cy="406.92" r="1.40" fill="#000" stroke="none" stroke-width="0"/>
<circle cx="323.33" cy="408.99" r="1.40" fill="#000" stroke="none" stroke-width="0"/>
<circle cx="327.47" cy="408.99" r="1.40" fill="#000" stroke="none" stroke-width="0"/>
<circle cx="338.87" cy="408.99" r="1.40" fill="#000" stroke="none" stroke-width="0"/>
<circle cx="344.05" cy="408.99" r="1.40" fill="#000" stroke="none" stroke-width="0"/>
<circle cx="318.66" cy="411.58" r="1.40" fill="#000" stroke="none" stroke-width="0"/>
<circle cx="321.77" cy="411.58" r="1.40" fill="#000" stroke="none" stroke-width="0"/>
<circle cx="324.36" cy="411.58" r="1.40" fill="#000" stroke="none" stroke-width="0"/>
<circle cx="326.95" cy="411.58" r="1.40" fill="#000" stroke="none" stroke-width="0"/>
<circle cx="329.54" cy="411.58" r="1.40" fill="#000" stroke="none" stroke-width="0"/>
<circle cx="339.39" cy="411.58" r="1.40" fill="#000" stroke="none" stroke-width="0"/>
<circle cx="342.50" cy="411.58" r="1.40" fill="#000" stroke="none" stroke-width="0"/>
<circle cx="345.09" cy="411.58" r="1.40" fill="#000" stroke="none" stroke-width="0"/>
<circle cx="347.68" cy="411.58" r="1.40" fill="#000" stroke="none" stroke-width="0"/>
<circle cx="332.13" cy="414.17" r="1.40" fill="#000" stroke="none" stroke-width="0"/>
<circle cx="334.21" cy="414.17" r="1.40" fill="#000" stroke="none" stroke-width="0"/>
<circle cx="336.28" cy="414.17" r="1.40" fill="#000" stroke="none" stroke-width="0"/>
<circle cx="339.39" cy="414.17" r="1.40" fill="#000" stroke="none" stroke-width="0"/>
<circle cx="321.77" cy="416.76" r="1.40" fill="#000" stroke="none" stroke-width="0"/>
<circle cx="324.36" cy="416.76" r="1.40" fill="#000" stroke="none" stroke-width="0"/>
<circle cx="327.47" cy="416.76" r="1.40" fill="#000" stroke="none" stroke-width="0"/>
<circle cx="330.06" cy="416.76" r="1.40" fill="#000" stroke="none" stroke-width="0"/>
<circle cx="342.50" cy="416.76" r="1.40" fill="#000" stroke="none" stroke-width="0"/>
<circle cx="345.09" cy="416.76" r="1.40" fill="#000" stroke="none" stroke-width="0"/>
<circle cx="346.64" cy="416.76" r="1.40" fill="#000" stroke="none" stroke-width="0"/>
<circle cx="332.13" cy="419.87" r="1.40" fill="#000" stroke="none" stroke-width="0"/>
<circle cx="334.21" cy="419.87" r="1.40" fill="#000" stroke="none" stroke-width="0"/>
<circle cx="337.83" cy="419.87" r="1.40" fill="#000" stroke="none" stroke-width="0"/>
<circle cx="319.18" cy="422.46" r="1.40" fill="#000" stroke="none" stroke-width="0"/>
<circle cx="321.77" cy="422.46" r="1.40" fill="#000" stroke="none" stroke-width="0"/>
<circle cx="324.36" cy="422.46" r="1.40" fill="#000" stroke="none" stroke-width="0"/>
<circle cx="326.95" cy="422.46" r="1.40" fill="#000" stroke="none" stroke-width="0"/>
<circle cx="329.54" cy="422.46" r="1.40" fill="#000" stroke="none" stroke-width="0"/>
<circle cx="332.13" cy="422.46" r="1.40" fill="#000" stroke="none" stroke-width="0"/>
<circle cx="334.21" cy="422.46" r="1.40" fill="#000" stroke="none" stroke-width="0"/>
<circle cx="336.28" cy="422.46" r="1.40" fill="#000" stroke="none" stroke-width="0"/>
<circle cx="338.87" cy="422.46" r="1.40" fill="#000" stroke="none" stroke-width="0"/>
<circle cx="341.46" cy="422.46" r="1.40" fill="#000" stroke="none" stroke-width="0"/>
<circle cx="344.57" cy="422.46" r="1.40" fill="#000" stroke="none" stroke-width="0"/>
<circle cx="347.68" cy="422.46" r="1.40" fill="#000" stroke="none" stroke-width="0"/>
<circle cx="321.77" cy="425.05" r="1.40" fill="#000" stroke="none" stroke-width="0"/>
<circle cx="324.36" cy="425.05" r="1.40" fill="#000" stroke="none" stroke-width="0"/>
<circle cx="326.95" cy="425.05" r="1.40" fill="#000" stroke="none" stroke-width="0"/>
<circle cx="330.58" cy="425.05" r="1.40" fill="#000" stroke="none" stroke-width="0"/>
<circle cx="337.83" cy="425.05" r="1.40" fill="#000" stroke="none" stroke-width="0"/>
<circle cx="340.94" cy="425.05" r="1.40" fill="#000" stroke="none" stroke-width="0"/>
<circle cx="344.05" cy="425.05" r="1.40" fill="#000" stroke="none" stroke-width="0"/>
<circle cx="346.12" cy="425.05" r="1.40" fill="#000" stroke="none" stroke-width="0"/>
<circle cx="320.22" cy="428.16" r="1.40" fill="#000" stroke="none" stroke-width="0"/>
<circle cx="323.33" cy="428.16" r="1.40" fill="#000" stroke="none" stroke-width="0"/>
<circle cx="325.92" cy="428.16" r="1.40" fill="#000" stroke="none" stroke-width="0"/>
<circle cx="328.51" cy="428.16" r="1.40" fill="#000" stroke="none" stroke-width="0"/>
<circle cx="331.10" cy="428.16" r="1.40" fill="#000" stroke="none" stroke-width="0"/>
<circle cx="336.80" cy="428.16" r="1.40" fill="#000" stroke="none" stroke-width="0"/>
<circle cx="339.39" cy="428.16" r="1.40" fill="#000" stroke="none" stroke-width="0"/>
<circle cx="342.50" cy="428.16" r="1.40" fill="#000" stroke="none" stroke-width="0"/>
<circle cx="345.09" cy="428.16" r="1.40" fill="#000" stroke="none" stroke-width="0"/>
<circle cx="348.72" cy="428.16" r="1.40" fill="#000" stroke="none" stroke-width="0"/>
<circle cx="324.36" cy="430.75" r="1.40" fill="#000" stroke="none" stroke-width="0"/>
<circle cx="327.47" cy="430.75" r="1.40" fill="#000" stroke="none" stroke-width="0"/>
<circle cx="330.06" cy="430.75" r="1.40" fill="#000" stroke="none" stroke-width="0"/>
<circle cx="339.39" cy="430.75" r="1.40" fill="#000" stroke="none" stroke-width="0"/>
<circle cx="342.50" cy="430.75" r="1.40" fill="#000" stroke="none" stroke-width="0"/>
<circle cx="345.09" cy="430.75" r="1.40" fill="#000" stroke="none" stroke-width="0"/>
<circle cx="321.77" cy="433.34" r="1.40" fill="#000" stroke="none" stroke-width="0"/>
<circle cx="324.36" cy="433.34" r="1.40" fill="#000" stroke="none" stroke-width="0"/>
<circle cx="327.47" cy="433.34" r="1.40" fill="#000" stroke="none" stroke-width="0"/>
<circle cx="330.58" cy="433.34" r="1.40" fill="#000" stroke="none" stroke-width="0"/>
<circle cx="334.73" cy="433.34" r="1.40" fill="#000" stroke="none" stroke-width="0"/>
<circle cx="337.83" cy="433.34" r="1.40" fill="#000" stroke="none" stroke-width="0"/>
<circle cx="340.94" cy="433.34" r="1.40" fill="#000" stroke="none" stroke-width="0"/>
<circle cx="344.05" cy="433.34" r="1.40" fill="#000" stroke="none" stroke-width="0"/>
<circle cx="346.12" cy="433.34" r="1.40" fill="#000" stroke="none" stroke-width="0"/>
<circle cx="325.40" cy="435.93" r="1.40" fill="#000" stroke="none" stroke-width="0"/>
<circle cx="328.51" cy="435.93" r="1.40" fill="#000" stroke="none" stroke-width="0"/>
<circle cx="339.91" cy="435.93" r="1.40" fill="#000" stroke="none" stroke-width="0"/>
<circle cx="343.02" cy="435.93" r="1.40" fill="#000" stroke="none" stroke-width="0"/>
<circle cx="321.25" cy="438.52" r="1.40" fill="#000" stroke="none" stroke-width="0"/>
<circle cx="323.33" cy="438.52" r="1.40" fill="#000" stroke="none" stroke-width="0"/>
<circle cx="344.05" cy="438.52" r="1.40" fill="#000" stroke="none" stroke-width="0"/>
<circle cx="346.12" cy="438.52" r="1.40" fill="#000" stroke="none" stroke-width="0"/>
<circle cx="325.40" cy="440.60" r="1.40" fill="#000" stroke="none" stroke-width="0"/>
<circle cx="327.47" cy="440.60" r="1.40" fill="#000" stroke="none" stroke-width="0"/>
<circle cx="329.54" cy="440.60" r="1.40" fill="#000" stroke="none" stroke-width="0"/>
<circle cx="331.62" cy="440.60" r="1.40" fill="#000" stroke="none" stroke-width="0"/>
<circle cx="336.28" cy="440.60" r="1.40" fill="#000" stroke="none" stroke-width="0"/>
<circle cx="338.35" cy="440.60" r="1.40" fill="#000" stroke="none" stroke-width="0"/>
<circle cx="340.42" cy="440.60" r="1.40" fill="#000" stroke="none" stroke-width="0"/>
<circle cx="342.50" cy="440.60" r="1.40" fill="#000" stroke="none" stroke-width="0"/>
<circle cx="385.20" cy="335.90" r="1.35" fill="#d82424" stroke="none" stroke-width="0"/>
<circle cx="385.20" cy="344.10" r="1.35" fill="#d82424" stroke="none" stroke-width="0"/>
<circle cx="387.50" cy="354.50" r="1.35" fill="#d82424" stroke="none" stroke-width="0"/>
<circle cx="382.90" cy="357.60" r="1.35" fill="#d82424" stroke="none" stroke-width="0"/>
<circle cx="382.90" cy="365.80" r="1.35" fill="#d82424" stroke="none" stroke-width="0"/>
<circle cx="387.50" cy="365.80" r="1.35" fill="#d82424" stroke="none" stroke-width="0"/>
<circle cx="385.20" cy="376.20" r="1.35" fill="#d82424" stroke="none" stroke-width="0"/>
<circle cx="381.30" cy="389.90" r="1.35" fill="#d82424" stroke="none" stroke-width="0"/>
<circle cx="389.10" cy="389.90" r="1.35" fill="#d82424" stroke="none" stroke-width="0"/>
<circle cx="385.20" cy="392.50" r="1.35" fill="#d82424" stroke="none" stroke-width="0"/>
<circle cx="380.93" cy="403.46" r="1.35" fill="#d82424" stroke="none" stroke-width="0"/>
<circle cx="384.91" cy="403.46" r="1.35" fill="#d82424" stroke="none" stroke-width="0"/>
<circle cx="389.08" cy="403.46" r="1.35" fill="#d82424" stroke="none" stroke-width="0"/>
<circle cx="372.77" cy="405.95" r="1.35" fill="#d82424" stroke="none" stroke-width="0"/>
<circle cx="376.95" cy="408.94" r="1.35" fill="#d82424" stroke="none" stroke-width="0"/>
<circle cx="380.93" cy="408.94" r="1.35" fill="#d82424" stroke="none" stroke-width="0"/>
<circle cx="384.91" cy="408.94" r="1.35" fill="#d82424" stroke="none" stroke-width="0"/>
<circle cx="389.08" cy="408.94" r="1.35" fill="#d82424" stroke="none" stroke-width="0"/>
<circle cx="395.05" cy="408.94" r="1.35" fill="#d82424" stroke="none" stroke-width="0"/>
<circle cx="398.84" cy="408.94" r="1.35" fill="#d82424" stroke="none" stroke-width="0"/>
<circle cx="372.77" cy="411.42" r="1.35" fill="#d82424" stroke="none" stroke-width="0"/>
<circle cx="392.87" cy="411.42" r="1.35" fill="#d82424" stroke="none" stroke-width="0"/>
<circle cx="396.85" cy="411.42" r="1.35" fill="#d82424" stroke="none" stroke-width="0"/>
<circle cx="376.95" cy="414.41" r="1.35" fill="#d82424" stroke="none" stroke-width="0"/>
<circle cx="380.93" cy="414.41" r="1.35" fill="#d82424" stroke="none" stroke-width="0"/>
<circle cx="384.91" cy="414.41" r="1.35" fill="#d82424" stroke="none" stroke-width="0"/>
<circle cx="389.08" cy="414.41" r="1.35" fill="#d82424" stroke="none" stroke-width="0"/>
<circle cx="380.93" cy="419.88" r="1.35" fill="#d82424" stroke="none" stroke-width="0"/>
<circle cx="384.91" cy="419.88" r="1.35" fill="#d82424" stroke="none" stroke-width="0"/>
<circle cx="389.08" cy="419.88" r="1.35" fill="#d82424" stroke="none" stroke-width="0"/>
<circle cx="369.98" cy="422.37" r="1.35" fill="#d82424" stroke="none" stroke-width="0"/>
<circle cx="372.97" cy="422.37" r="1.35" fill="#d82424" stroke="none" stroke-width="0"/>
<circle cx="396.85" cy="422.37" r="1.35" fill="#d82424" stroke="none" stroke-width="0"/>
<circle cx="399.83" cy="422.37" r="1.35" fill="#d82424" stroke="none" stroke-width="0"/>
<circle cx="375.95" cy="424.86" r="1.35" fill="#d82424" stroke="none" stroke-width="0"/>
<circle cx="378.44" cy="424.86" r="1.35" fill="#d82424" stroke="none" stroke-width="0"/>
<circle cx="380.93" cy="424.86" r="1.35" fill="#d82424" stroke="none" stroke-width="0"/>
<circle cx="383.41" cy="424.86" r="1.35" fill="#d82424" stroke="none" stroke-width="0"/>
<circle cx="386.90" cy="424.86" r="1.35" fill="#d82424" stroke="none" stroke-width="0"/>
<circle cx="389.38" cy="424.86" r="1.35" fill="#d82424" stroke="none" stroke-width="0"/>
<circle cx="391.87" cy="424.86" r="1.35" fill="#d82424" stroke="none" stroke-width="0"/>
<circle cx="394.36" cy="424.86" r="1.35" fill="#d82424" stroke="none" stroke-width="0"/>
<circle cx="371.97" cy="427.84" r="1.35" fill="#d82424" stroke="none" stroke-width="0"/>
<circle cx="380.93" cy="427.84" r="1.35" fill="#d82424" stroke="none" stroke-width="0"/>
<circle cx="384.91" cy="427.84" r="1.35" fill="#d82424" stroke="none" stroke-width="0"/>
<circle cx="389.08" cy="427.84" r="1.35" fill="#d82424" stroke="none" stroke-width="0"/>
<circle cx="397.84" cy="427.84" r="1.35" fill="#d82424" stroke="none" stroke-width="0"/>
<circle cx="374.96" cy="430.33" r="1.35" fill="#d82424" stroke="none" stroke-width="0"/>
<circle cx="377.44" cy="430.33" r="1.35" fill="#d82424" stroke="none" stroke-width="0"/>
<circle cx="379.93" cy="430.33" r="1.35" fill="#d82424" stroke="none" stroke-width="0"/>
<circle cx="382.42" cy="430.33" r="1.35" fill="#d82424" stroke="none" stroke-width="0"/>
<circle cx="386.90" cy="430.33" r="1.35" fill="#d82424" stroke="none" stroke-width="0"/>
<circle cx="389.88" cy="430.33" r="1.35" fill="#d82424" stroke="none" stroke-width="0"/>
<circle cx="392.87" cy="430.33" r="1.35" fill="#d82424" stroke="none" stroke-width="0"/>
<circle cx="395.85" cy="430.33" r="1.35" fill="#d82424" stroke="none" stroke-width="0"/>
<circle cx="372.97" cy="433.31" r="1.35" fill="#d82424" stroke="none" stroke-width="0"/>
<circle cx="376.95" cy="433.31" r="1.35" fill="#d82424" stroke="none" stroke-width="0"/>
<circle cx="380.93" cy="433.31" r="1.35" fill="#d82424" stroke="none" stroke-width="0"/>
<circle cx="389.08" cy="433.31" r="1.35" fill="#d82424" stroke="none" stroke-width="0"/>
<circle cx="392.87" cy="433.31" r="1.35" fill="#d82424" stroke="none" stroke-width="0"/>
<circle cx="396.85" cy="433.31" r="1.35" fill="#d82424" stroke="none" stroke-width="0"/>
<circle cx="384.91" cy="436.30" r="1.35" fill="#d82424" stroke="none" stroke-width="0"/>
<circle cx="369.98" cy="438.29" r="1.35" fill="#d82424" stroke="none" stroke-width="0"/>
<circle cx="371.97" cy="438.29" r="1.35" fill="#d82424" stroke="none" stroke-width="0"/>
<circle cx="373.96" cy="438.29" r="1.35" fill="#d82424" stroke="none" stroke-width="0"/>
<circle cx="397.84" cy="438.29" r="1.35" fill="#d82424" stroke="none" stroke-width="0"/>
<circle cx="399.83" cy="438.29" r="1.35" fill="#d82424" stroke="none" stroke-width="0"/>
<circle cx="375.95" cy="440.28" r="1.35" fill="#d82424" stroke="none" stroke-width="0"/>
<circle cx="378.44" cy="440.28" r="1.35" fill="#d82424" stroke="none" stroke-width="0"/>
<circle cx="380.93" cy="440.28" r="1.35" fill="#d82424" stroke="none" stroke-width="0"/>
<circle cx="383.41" cy="440.28" r="1.35" fill="#d82424" stroke="none" stroke-width="0"/>
<circle cx="386.90" cy="440.28" r="1.35" fill="#d82424" stroke="none" stroke-width="0"/>
<circle cx="389.38" cy="440.28" r="1.35" fill="#d82424" stroke="none" stroke-width="0"/>
<circle cx="391.87" cy="440.28" r="1.35" fill="#d82424" stroke="none" stroke-width="0"/>
<circle cx="394.36" cy="440.28" r="1.35" fill="#d82424" stroke="none" stroke-width="0"/>
<circle cx="383.00" cy="420.00" r="1.35" fill="#d82424" stroke="none" stroke-width="0"/>
<circle cx="387.40" cy="420.00" r="1.35" fill="#d82424" stroke="none" stroke-width="0"/>
<circle cx="383.00" cy="422.40" r="1.35" fill="#d82424" stroke="none" stroke-width="0"/>
<circle cx="387.40" cy="422.40" r="1.35" fill="#d82424" stroke="none" stroke-width="0"/>
<circle cx="383.00" cy="427.80" r="1.35" fill="#d82424" stroke="none" stroke-width="0"/>
<circle cx="387.40" cy="427.80" r="1.35" fill="#d82424" stroke="none" stroke-width="0"/>
<circle cx="383.00" cy="433.30" r="1.35" fill="#d82424" stroke="none" stroke-width="0"/>
<circle cx="387.40" cy="433.30" r="1.35" fill="#d82424" stroke="none" stroke-width="0"/>
<circle cx="383.00" cy="436.30" r="1.35" fill="#d82424" stroke="none" stroke-width="0"/>
<circle cx="387.40" cy="436.30" r="1.35" fill="#d82424" stroke="none" stroke-width="0"/>
<circle cx="385.20" cy="431.00" r="1.35" fill="#d82424" stroke="none" stroke-width="0"/>
<circle cx="436.20" cy="368.30" r="1.40" fill="#000" stroke="none" stroke-width="0"/>
<circle cx="433.80" cy="373.70" r="1.40" fill="#000" stroke="none" stroke-width="0"/>
<circle cx="438.00" cy="376.60" r="1.40" fill="#000" stroke="none" stroke-width="0"/>
<circle cx="433.80" cy="384.50" r="1.40" fill="#000" stroke="none" stroke-width="0"/>
<circle cx="438.00" cy="384.50" r="1.40" fill="#000" stroke="none" stroke-width="0"/>
<circle cx="440.00" cy="387.30" r="1.40" fill="#000" stroke="none" stroke-width="0"/>
<circle cx="431.50" cy="390.20" r="1.40" fill="#000" stroke="none" stroke-width="0"/>
<circle cx="436.00" cy="390.20" r="1.40" fill="#000" stroke="none" stroke-width="0"/>
<circle cx="438.00" cy="395.40" r="1.40" fill="#000" stroke="none" stroke-width="0"/>
<circle cx="433.80" cy="398.00" r="1.40" fill="#000" stroke="none" stroke-width="0"/>
<circle cx="429.50" cy="400.60" r="1.40" fill="#000" stroke="none" stroke-width="0"/>
<circle cx="442.10" cy="400.60" r="1.40" fill="#000" stroke="none" stroke-width="0"/>
<circle cx="433.80" cy="403.20" r="1.40" fill="#000" stroke="none" stroke-width="0"/>
<circle cx="436.00" cy="403.20" r="1.40" fill="#000" stroke="none" stroke-width="0"/>
<circle cx="438.20" cy="403.20" r="1.40" fill="#000" stroke="none" stroke-width="0"/>
<circle cx="433.60" cy="402.80" r="1.40" fill="#000" stroke="none" stroke-width="0"/>
<circle cx="436.70" cy="402.80" r="1.40" fill="#000" stroke="none" stroke-width="0"/>
<circle cx="422.70" cy="405.90" r="1.40" fill="#000" stroke="none" stroke-width="0"/>
<circle cx="425.30" cy="405.90" r="1.40" fill="#000" stroke="none" stroke-width="0"/>
<circle cx="428.40" cy="405.90" r="1.40" fill="#000" stroke="none" stroke-width="0"/>
<circle cx="431.50" cy="405.90" r="1.40" fill="#000" stroke="none" stroke-width="0"/>
<circle cx="439.30" cy="405.90" r="1.40" fill="#000" stroke="none" stroke-width="0"/>
<circle cx="442.40" cy="405.90" r="1.40" fill="#000" stroke="none" stroke-width="0"/>
<circle cx="445.50" cy="405.90" r="1.40" fill="#000" stroke="none" stroke-width="0"/>
<circle cx="448.10" cy="405.90" r="1.40" fill="#000" stroke="none" stroke-width="0"/>
<circle cx="436.00" cy="408.50" r="1.40" fill="#000" stroke="none" stroke-width="0"/>
<circle cx="420.60" cy="411.40" r="1.40" fill="#000" stroke="none" stroke-width="0"/>
<circle cx="423.30" cy="411.40" r="1.40" fill="#000" stroke="none" stroke-width="0"/>
<circle cx="426.00" cy="411.40" r="1.40" fill="#000" stroke="none" stroke-width="0"/>
<circle cx="445.60" cy="411.40" r="1.40" fill="#000" stroke="none" stroke-width="0"/>
<circle cx="448.30" cy="411.40" r="1.40" fill="#000" stroke="none" stroke-width="0"/>
<circle cx="451.00" cy="411.40" r="1.40" fill="#000" stroke="none" stroke-width="0"/>
<circle cx="426.40" cy="414.00" r="1.40" fill="#000" stroke="none" stroke-width="0"/>
<circle cx="428.51" cy="414.00" r="1.40" fill="#000" stroke="none" stroke-width="0"/>
<circle cx="430.62" cy="414.00" r="1.40" fill="#000" stroke="none" stroke-width="0"/>
<circle cx="432.73" cy="414.00" r="1.40" fill="#000" stroke="none" stroke-width="0"/>
<circle cx="434.84" cy="414.00" r="1.40" fill="#000" stroke="none" stroke-width="0"/>
<circle cx="436.96" cy="414.00" r="1.40" fill="#000" stroke="none" stroke-width="0"/>
<circle cx="439.07" cy="414.00" r="1.40" fill="#000" stroke="none" stroke-width="0"/>
<circle cx="441.18" cy="414.00" r="1.40" fill="#000" stroke="none" stroke-width="0"/>
<circle cx="443.29" cy="414.00" r="1.40" fill="#000" stroke="none" stroke-width="0"/>
<circle cx="445.40" cy="414.00" r="1.40" fill="#000" stroke="none" stroke-width="0"/>
<circle cx="420.00" cy="417.20" r="1.40" fill="#000" stroke="none" stroke-width="0"/>
<circle cx="422.13" cy="417.20" r="1.40" fill="#000" stroke="none" stroke-width="0"/>
<circle cx="424.27" cy="417.20" r="1.40" fill="#000" stroke="none" stroke-width="0"/>
<circle cx="426.40" cy="417.20" r="1.40" fill="#000" stroke="none" stroke-width="0"/>
<circle cx="428.53" cy="417.20" r="1.40" fill="#000" stroke="none" stroke-width="0"/>
<circle cx="430.67" cy="417.20" r="1.40" fill="#000" stroke="none" stroke-width="0"/>
<circle cx="432.80" cy="417.20" r="1.40" fill="#000" stroke="none" stroke-width="0"/>
<circle cx="434.93" cy="417.20" r="1.40" fill="#000" stroke="none" stroke-width="0"/>
<circle cx="437.07" cy="417.20" r="1.40" fill="#000" stroke="none" stroke-width="0"/>
<circle cx="439.20" cy="417.20" r="1.40" fill="#000" stroke="none" stroke-width="0"/>
<circle cx="441.33" cy="417.20" r="1.40" fill="#000" stroke="none" stroke-width="0"/>
<circle cx="443.47" cy="417.20" r="1.40" fill="#000" stroke="none" stroke-width="0"/>
<circle cx="445.60" cy="417.20" r="1.40" fill="#000" stroke="none" stroke-width="0"/>
<circle cx="447.73" cy="417.20" r="1.40" fill="#000" stroke="none" stroke-width="0"/>
<circle cx="449.87" cy="417.20" r="1.40" fill="#000" stroke="none" stroke-width="0"/>
<circle cx="452.00" cy="417.20" r="1.40" fill="#000" stroke="none" stroke-width="0"/>
<circle cx="426.40" cy="419.60" r="1.40" fill="#000" stroke="none" stroke-width="0"/>
<circle cx="428.51" cy="419.60" r="1.40" fill="#000" stroke="none" stroke-width="0"/>
<circle cx="430.62" cy="419.60" r="1.40" fill="#000" stroke="none" stroke-width="0"/>
<circle cx="432.73" cy="419.60" r="1.40" fill="#000" stroke="none" stroke-width="0"/>
<circle cx="434.84" cy="419.60" r="1.40" fill="#000" stroke="none" stroke-width="0"/>
<circle cx="436.96" cy="419.60" r="1.40" fill="#000" stroke="none" stroke-width="0"/>
<circle cx="439.07" cy="419.60" r="1.40" fill="#000" stroke="none" stroke-width="0"/>
<circle cx="441.18" cy="419.60" r="1.40" fill="#000" stroke="none" stroke-width="0"/>
<circle cx="443.29" cy="419.60" r="1.40" fill="#000" stroke="none" stroke-width="0"/>
<circle cx="445.40" cy="419.60" r="1.40" fill="#000" stroke="none" stroke-width="0"/>
<circle cx="420.60" cy="422.30" r="1.40" fill="#000" stroke="none" stroke-width="0"/>
<circle cx="423.30" cy="422.30" r="1.40" fill="#000" stroke="none" stroke-width="0"/>
<circle cx="426.00" cy="422.30" r="1.40" fill="#000" stroke="none" stroke-width="0"/>
<circle cx="445.60" cy="422.30" r="1.40" fill="#000" stroke="none" stroke-width="0"/>
<circle cx="448.30" cy="422.30" r="1.40" fill="#000" stroke="none" stroke-width="0"/>
<circle cx="451.00" cy="422.30" r="1.40" fill="#000" stroke="none" stroke-width="0"/>
<circle cx="426.40" cy="425.00" r="1.40" fill="#000" stroke="none" stroke-width="0"/>
<circle cx="428.51" cy="425.00" r="1.40" fill="#000" stroke="none" stroke-width="0"/>
<circle cx="430.62" cy="425.00" r="1.40" fill="#000" stroke="none" stroke-width="0"/>
<circle cx="432.73" cy="425.00" r="1.40" fill="#000" stroke="none" stroke-width="0"/>
<circle cx="434.84" cy="425.00" r="1.40" fill="#000" stroke="none" stroke-width="0"/>
<circle cx="436.96" cy="425.00" r="1.40" fill="#000" stroke="none" stroke-width="0"/>
<circle cx="439.07" cy="425.00" r="1.40" fill="#000" stroke="none" stroke-width="0"/>
<circle cx="441.18" cy="425.00" r="1.40" fill="#000" stroke="none" stroke-width="0"/>
<circle cx="443.29" cy="425.00" r="1.40" fill="#000" stroke="none" stroke-width="0"/>
<circle cx="445.40" cy="425.00" r="1.40" fill="#000" stroke="none" stroke-width="0"/>
<circle cx="420.60" cy="427.70" r="1.40" fill="#000" stroke="none" stroke-width="0"/>
<circle cx="423.30" cy="427.70" r="1.40" fill="#000" stroke="none" stroke-width="0"/>
<circle cx="426.00" cy="427.70" r="1.40" fill="#000" stroke="none" stroke-width="0"/>
<circle cx="445.60" cy="427.70" r="1.40" fill="#000" stroke="none" stroke-width="0"/>
<circle cx="448.30" cy="427.70" r="1.40" fill="#000" stroke="none" stroke-width="0"/>
<circle cx="451.00" cy="427.70" r="1.40" fill="#000" stroke="none" stroke-width="0"/>
<circle cx="426.40" cy="430.40" r="1.40" fill="#000" stroke="none" stroke-width="0"/>
<circle cx="428.51" cy="430.40" r="1.40" fill="#000" stroke="none" stroke-width="0"/>
<circle cx="430.62" cy="430.40" r="1.40" fill="#000" stroke="none" stroke-width="0"/>
<circle cx="432.73" cy="430.40" r="1.40" fill="#000" stroke="none" stroke-width="0"/>
<circle cx="434.84" cy="430.40" r="1.40" fill="#000" stroke="none" stroke-width="0"/>
<circle cx="436.96" cy="430.40" r="1.40" fill="#000" stroke="none" stroke-width="0"/>
<circle cx="439.07" cy="430.40" r="1.40" fill="#000" stroke="none" stroke-width="0"/>
<circle cx="441.18" cy="430.40" r="1.40" fill="#000" stroke="none" stroke-width="0"/>
<circle cx="443.29" cy="430.40" r="1.40" fill="#000" stroke="none" stroke-width="0"/>
<circle cx="445.40" cy="430.40" r="1.40" fill="#000" stroke="none" stroke-width="0"/>
<circle cx="420.60" cy="433.10" r="1.40" fill="#000" stroke="none" stroke-width="0"/>
<circle cx="423.30" cy="433.10" r="1.40" fill="#000" stroke="none" stroke-width="0"/>
<circle cx="426.00" cy="433.10" r="1.40" fill="#000" stroke="none" stroke-width="0"/>
<circle cx="445.60" cy="433.10" r="1.40" fill="#000" stroke="none" stroke-width="0"/>
<circle cx="448.30" cy="433.10" r="1.40" fill="#000" stroke="none" stroke-width="0"/>
<circle cx="451.00" cy="433.10" r="1.40" fill="#000" stroke="none" stroke-width="0"/>
<circle cx="426.40" cy="435.70" r="1.40" fill="#000" stroke="none" stroke-width="0"/>
<circle cx="428.51" cy="435.70" r="1.40" fill="#000" stroke="none" stroke-width="0"/>
<circle cx="430.62" cy="435.70" r="1.40" fill="#000" stroke="none" stroke-width="0"/>
<circle cx="432.73" cy="435.70" r="1.40" fill="#000" stroke="none" stroke-width="0"/>
<circle cx="434.84" cy="435.70" r="1.40" fill="#000" stroke="none" stroke-width="0"/>
<circle cx="436.96" cy="435.70" r="1.40" fill="#000" stroke="none" stroke-width="0"/>
<circle cx="439.07" cy="435.70" r="1.40" fill="#000" stroke="none" stroke-width="0"/>
<circle cx="441.18" cy="435.70" r="1.40" fill="#000" stroke="none" stroke-width="0"/>
<circle cx="443.29" cy="435.70" r="1.40" fill="#000" stroke="none" stroke-width="0"/>
<circle cx="445.40" cy="435.70" r="1.40" fill="#000" stroke="none" stroke-width="0"/>
<circle cx="420.60" cy="438.40" r="1.40" fill="#000" stroke="none" stroke-width="0"/>
<circle cx="423.30" cy="438.40" r="1.40" fill="#000" stroke="none" stroke-width="0"/>
<circle cx="426.00" cy="438.40" r="1.40" fill="#000" stroke="none" stroke-width="0"/>
<circle cx="445.60" cy="438.40" r="1.40" fill="#000" stroke="none" stroke-width="0"/>
<circle cx="448.30" cy="438.40" r="1.40" fill="#000" stroke="none" stroke-width="0"/>
<circle cx="451.00" cy="438.40" r="1.40" fill="#000" stroke="none" stroke-width="0"/>
<circle cx="426.40" cy="440.90" r="1.40" fill="#000" stroke="none" stroke-width="0"/>
<circle cx="428.51" cy="440.90" r="1.40" fill="#000" stroke="none" stroke-width="0"/>
<circle cx="430.62" cy="440.90" r="1.40" fill="#000" stroke="none" stroke-width="0"/>
<circle cx="432.73" cy="440.90" r="1.40" fill="#000" stroke="none" stroke-width="0"/>
<circle cx="434.84" cy="440.90" r="1.40" fill="#000" stroke="none" stroke-width="0"/>
<circle cx="436.96" cy="440.90" r="1.40" fill="#000" stroke="none" stroke-width="0"/>
<circle cx="439.07" cy="440.90" r="1.40" fill="#000" stroke="none" stroke-width="0"/>
<circle cx="441.18" cy="440.90" r="1.40" fill="#000" stroke="none" stroke-width="0"/>
<circle cx="443.29" cy="440.90" r="1.40" fill="#000" stroke="none" stroke-width="0"/>
<circle cx="445.40" cy="440.90" r="1.40" fill="#000" stroke="none" stroke-width="0"/>
<circle cx="434.00" cy="411.40" r="1.40" fill="#000" stroke="none" stroke-width="0"/>
<circle cx="436.00" cy="411.40" r="1.40" fill="#000" stroke="none" stroke-width="0"/>
<circle cx="438.00" cy="411.40" r="1.40" fill="#000" stroke="none" stroke-width="0"/>
<circle cx="486.90" cy="346.80" r="1.35" fill="#d82424" stroke="none" stroke-width="0"/>
<circle cx="488.80" cy="357.60" r="1.35" fill="#d82424" stroke="none" stroke-width="0"/>
<circle cx="484.50" cy="360.20" r="1.35" fill="#d82424" stroke="none" stroke-width="0"/>
<circle cx="486.90" cy="366.00" r="1.35" fill="#d82424" stroke="none" stroke-width="0"/>
<circle cx="486.90" cy="376.50" r="1.35" fill="#d82424" stroke="none" stroke-width="0"/>
<circle cx="486.90" cy="382.10" r="1.35" fill="#d82424" stroke="none" stroke-width="0"/>
<circle cx="484.50" cy="387.20" r="1.35" fill="#d82424" stroke="none" stroke-width="0"/>
<circle cx="488.80" cy="387.20" r="1.35" fill="#d82424" stroke="none" stroke-width="0"/>
<circle cx="482.50" cy="392.90" r="1.35" fill="#d82424" stroke="none" stroke-width="0"/>
<circle cx="486.90" cy="392.90" r="1.35" fill="#d82424" stroke="none" stroke-width="0"/>
<circle cx="491.00" cy="392.90" r="1.35" fill="#d82424" stroke="none" stroke-width="0"/>
<circle cx="476.24" cy="400.81" r="1.35" fill="#d82424" stroke="none" stroke-width="0"/>
<circle cx="480.23" cy="400.81" r="1.35" fill="#d82424" stroke="none" stroke-width="0"/>
<circle cx="484.21" cy="400.81" r="1.35" fill="#d82424" stroke="none" stroke-width="0"/>
<circle cx="490.47" cy="400.81" r="1.35" fill="#d82424" stroke="none" stroke-width="0"/>
<circle cx="493.32" cy="400.81" r="1.35" fill="#d82424" stroke="none" stroke-width="0"/>
<circle cx="496.73" cy="400.81" r="1.35" fill="#d82424" stroke="none" stroke-width="0"/>
<circle cx="484.21" cy="403.66" r="1.35" fill="#d82424" stroke="none" stroke-width="0"/>
<circle cx="492.75" cy="403.66" r="1.35" fill="#d82424" stroke="none" stroke-width="0"/>
<circle cx="478.52" cy="406.50" r="1.35" fill="#d82424" stroke="none" stroke-width="0"/>
<circle cx="481.93" cy="406.50" r="1.35" fill="#d82424" stroke="none" stroke-width="0"/>
<circle cx="488.76" cy="406.50" r="1.35" fill="#d82424" stroke="none" stroke-width="0"/>
<circle cx="494.45" cy="406.50" r="1.35" fill="#d82424" stroke="none" stroke-width="0"/>
<circle cx="482.50" cy="408.78" r="1.35" fill="#d82424" stroke="none" stroke-width="0"/>
<circle cx="490.47" cy="408.78" r="1.35" fill="#d82424" stroke="none" stroke-width="0"/>
<circle cx="478.52" cy="411.63" r="1.35" fill="#d82424" stroke="none" stroke-width="0"/>
<circle cx="483.07" cy="411.63" r="1.35" fill="#d82424" stroke="none" stroke-width="0"/>
<circle cx="486.49" cy="411.63" r="1.35" fill="#d82424" stroke="none" stroke-width="0"/>
<circle cx="491.04" cy="411.63" r="1.35" fill="#d82424" stroke="none" stroke-width="0"/>
<circle cx="495.02" cy="411.63" r="1.35" fill="#d82424" stroke="none" stroke-width="0"/>
<circle cx="482.50" cy="414.47" r="1.35" fill="#d82424" stroke="none" stroke-width="0"/>
<circle cx="486.49" cy="414.47" r="1.35" fill="#d82424" stroke="none" stroke-width="0"/>
<circle cx="490.47" cy="414.47" r="1.35" fill="#d82424" stroke="none" stroke-width="0"/>
<circle cx="478.52" cy="419.59" r="1.35" fill="#d82424" stroke="none" stroke-width="0"/>
<circle cx="481.37" cy="419.59" r="1.35" fill="#d82424" stroke="none" stroke-width="0"/>
<circle cx="484.21" cy="419.59" r="1.35" fill="#d82424" stroke="none" stroke-width="0"/>
<circle cx="487.06" cy="419.59" r="1.35" fill="#d82424" stroke="none" stroke-width="0"/>
<circle cx="489.90" cy="419.59" r="1.35" fill="#d82424" stroke="none" stroke-width="0"/>
<circle cx="492.75" cy="419.59" r="1.35" fill="#d82424" stroke="none" stroke-width="0"/>
<circle cx="494.45" cy="419.59" r="1.35" fill="#d82424" stroke="none" stroke-width="0"/>
<circle cx="471.12" cy="422.44" r="1.35" fill="#d82424" stroke="none" stroke-width="0"/>
<circle cx="473.97" cy="422.44" r="1.35" fill="#d82424" stroke="none" stroke-width="0"/>
<circle cx="476.81" cy="422.44" r="1.35" fill="#d82424" stroke="none" stroke-width="0"/>
<circle cx="479.66" cy="422.44" r="1.35" fill="#d82424" stroke="none" stroke-width="0"/>
<circle cx="482.50" cy="422.44" r="1.35" fill="#d82424" stroke="none" stroke-width="0"/>
<circle cx="485.35" cy="422.44" r="1.35" fill="#d82424" stroke="none" stroke-width="0"/>
<circle cx="488.19" cy="422.44" r="1.35" fill="#d82424" stroke="none" stroke-width="0"/>
<circle cx="491.04" cy="422.44" r="1.35" fill="#d82424" stroke="none" stroke-width="0"/>
<circle cx="493.89" cy="422.44" r="1.35" fill="#d82424" stroke="none" stroke-width="0"/>
<circle cx="498.44" cy="422.44" r="1.35" fill="#d82424" stroke="none" stroke-width="0"/>
<circle cx="501.28" cy="422.44" r="1.35" fill="#d82424" stroke="none" stroke-width="0"/>
<circle cx="503.56" cy="422.44" r="1.35" fill="#d82424" stroke="none" stroke-width="0"/>
<circle cx="478.52" cy="425.28" r="1.35" fill="#d82424" stroke="none" stroke-width="0"/>
<circle cx="483.07" cy="425.28" r="1.35" fill="#d82424" stroke="none" stroke-width="0"/>
<circle cx="490.47" cy="425.28" r="1.35" fill="#d82424" stroke="none" stroke-width="0"/>
<circle cx="472.26" cy="427.56" r="1.35" fill="#d82424" stroke="none" stroke-width="0"/>
<circle cx="500.15" cy="427.56" r="1.35" fill="#d82424" stroke="none" stroke-width="0"/>
<circle cx="476.24" cy="430.41" r="1.35" fill="#d82424" stroke="none" stroke-width="0"/>
<circle cx="479.66" cy="430.41" r="1.35" fill="#d82424" stroke="none" stroke-width="0"/>
<circle cx="483.07" cy="430.41" r="1.35" fill="#d82424" stroke="none" stroke-width="0"/>
<circle cx="486.49" cy="430.41" r="1.35" fill="#d82424" stroke="none" stroke-width="0"/>
<circle cx="490.47" cy="430.41" r="1.35" fill="#d82424" stroke="none" stroke-width="0"/>
<circle cx="493.32" cy="430.41" r="1.35" fill="#d82424" stroke="none" stroke-width="0"/>
<circle cx="497.30" cy="430.41" r="1.35" fill="#d82424" stroke="none" stroke-width="0"/>
<circle cx="477.95" cy="433.25" r="1.35" fill="#d82424" stroke="none" stroke-width="0"/>
<circle cx="482.50" cy="433.25" r="1.35" fill="#d82424" stroke="none" stroke-width="0"/>
<circle cx="486.49" cy="433.25" r="1.35" fill="#d82424" stroke="none" stroke-width="0"/>
<circle cx="490.47" cy="433.25" r="1.35" fill="#d82424" stroke="none" stroke-width="0"/>
<circle cx="494.45" cy="433.25" r="1.35" fill="#d82424" stroke="none" stroke-width="0"/>
<circle cx="481.93" cy="436.10" r="1.35" fill="#d82424" stroke="none" stroke-width="0"/>
<circle cx="486.49" cy="436.10" r="1.35" fill="#d82424" stroke="none" stroke-width="0"/>
<circle cx="490.47" cy="436.10" r="1.35" fill="#d82424" stroke="none" stroke-width="0"/>
<circle cx="471.69" cy="438.37" r="1.35" fill="#d82424" stroke="none" stroke-width="0"/>
<circle cx="474.54" cy="438.37" r="1.35" fill="#d82424" stroke="none" stroke-width="0"/>
<circle cx="477.38" cy="438.37" r="1.35" fill="#d82424" stroke="none" stroke-width="0"/>
<circle cx="481.93" cy="438.37" r="1.35" fill="#d82424" stroke="none" stroke-width="0"/>
<circle cx="484.78" cy="438.37" r="1.35" fill="#d82424" stroke="none" stroke-width="0"/>
<circle cx="487.63" cy="438.37" r="1.35" fill="#d82424" stroke="none" stroke-width="0"/>
<circle cx="490.47" cy="438.37" r="1.35" fill="#d82424" stroke="none" stroke-width="0"/>
<circle cx="493.32" cy="438.37" r="1.35" fill="#d82424" stroke="none" stroke-width="0"/>
<circle cx="498.44" cy="438.37" r="1.35" fill="#d82424" stroke="none" stroke-width="0"/>
<circle cx="501.28" cy="438.37" r="1.35" fill="#d82424" stroke="none" stroke-width="0"/>
<circle cx="476.81" cy="440.65" r="1.35" fill="#d82424" stroke="none" stroke-width="0"/>
<circle cx="479.66" cy="440.65" r="1.35" fill="#d82424" stroke="none" stroke-width="0"/>
<circle cx="482.50" cy="440.65" r="1.35" fill="#d82424" stroke="none" stroke-width="0"/>
<circle cx="485.35" cy="440.65" r="1.35" fill="#d82424" stroke="none" stroke-width="0"/>
<circle cx="488.19" cy="440.65" r="1.35" fill="#d82424" stroke="none" stroke-width="0"/>
<circle cx="491.04" cy="440.65" r="1.35" fill="#d82424" stroke="none" stroke-width="0"/>
<circle cx="493.89" cy="440.65" r="1.35" fill="#d82424" stroke="none" stroke-width="0"/>
<circle cx="496.73" cy="440.65" r="1.35" fill="#d82424" stroke="none" stroke-width="0"/>
<line x1="334.20" y1="441.20" x2="334.20" y2="398.80" stroke="#000" stroke-width="1.4" />
<line x1="326.40" y1="398.80" x2="343.00" y2="398.80" stroke="#000" stroke-width="1.5" />
<line x1="317.10" y1="420.40" x2="350.80" y2="420.40" stroke="#000" stroke-width="1.7" />
<line x1="385.20" y1="441.20" x2="385.20" y2="395.20" stroke="#d82424" stroke-width="1.8" />
<line x1="376.60" y1="395.20" x2="393.70" y2="395.20" stroke="#d82424" stroke-width="1.5" />
<line x1="368.00" y1="417.40" x2="401.80" y2="417.40" stroke="#000" stroke-width="1.7" />
<line x1="436.00" y1="441.20" x2="436.00" y2="390.20" stroke="#000" stroke-width="1.4" />
<line x1="426.90" y1="390.20" x2="445.00" y2="390.20" stroke="#000" stroke-width="1.5" />
<line x1="419.00" y1="417.20" x2="453.00" y2="417.20" stroke="#000" stroke-width="1.7" />
<line x1="486.60" y1="441.20" x2="486.60" y2="396.60" stroke="#d82424" stroke-width="1.8" />
<line x1="477.80" y1="396.60" x2="495.90" y2="396.60" stroke="#d82424" stroke-width="1.5" />
<line x1="470.00" y1="417.30" x2="503.60" y2="417.30" stroke="#000" stroke-width="1.7" />
<text transform="translate(326.484,460.941) scale(0.09149,0.08425)" fill="#000"  stroke="#000" stroke-width="6.259" stroke-linejoin="round"><tspan x="0.00" y="0.00" font-size="100.0" font-style="italic" font-weight="bold">Srf+</tspan></text>
<text transform="translate(366.387,460.941) scale(0.08785,0.08425)" fill="#000"  stroke="#000" stroke-width="6.392" stroke-linejoin="round"><tspan x="0.00" y="0.00" font-size="100.0" font-style="italic" font-weight="bold">Srf</tspan><tspan x="138.92" y="0.00" font-size="100.0" font-style="normal" font-weight="bold">KO</tspan></text>
<text transform="translate(392.317,456.225) scale(0.09407,0.07464)" fill="#000"  stroke="#000" stroke-width="6.520" stroke-linejoin="round"><tspan x="0.00" y="0.00" font-size="100.0" font-style="normal" font-weight="bold">H</tspan></text>
<text transform="translate(427.087,460.941) scale(0.08840,0.08425)" fill="#000"  stroke="#000" stroke-width="6.371" stroke-linejoin="round"><tspan x="0.00" y="0.00" font-size="100.0" font-style="italic" font-weight="bold">Srf+</tspan></text>
<text transform="translate(464.985,460.941) scale(0.08961,0.08425)" fill="#000"  stroke="#000" stroke-width="6.327" stroke-linejoin="round"><tspan x="0.00" y="0.00" font-size="100.0" font-style="italic" font-weight="bold">Srf</tspan><tspan x="138.92" y="0.00" font-size="100.0" font-style="normal" font-weight="bold">KO</tspan></text>
<text transform="translate(491.281,456.225) scale(0.09915,0.07464)" fill="#000"  stroke="#000" stroke-width="6.329" stroke-linejoin="round"><tspan x="0.00" y="0.00" font-size="100.0" font-style="normal" font-weight="bold">H</tspan></text>
<line x1="312.30" y1="469.60" x2="395.00" y2="469.60" stroke="#000" stroke-width="1.4" />
<line x1="418.10" y1="469.60" x2="500.80" y2="469.60" stroke="#000" stroke-width="1.4" />
<text transform="translate(326.309,480.752) scale(0.09439,0.08441)" fill="#000"  stroke="#000" stroke-width="6.152" stroke-linejoin="round"><tspan x="0.00" y="0.00" font-size="100.0" font-style="normal" font-weight="bold">µm to bone</tspan></text>
<text transform="translate(435.707,480.537) scale(0.09472,0.08516)" fill="#000"  stroke="#000" stroke-width="6.115" stroke-linejoin="round"><tspan x="0.00" y="0.00" font-size="100.0" font-style="normal" font-weight="bold">µm to EC</tspan></text>
</svg>
</body></html>
